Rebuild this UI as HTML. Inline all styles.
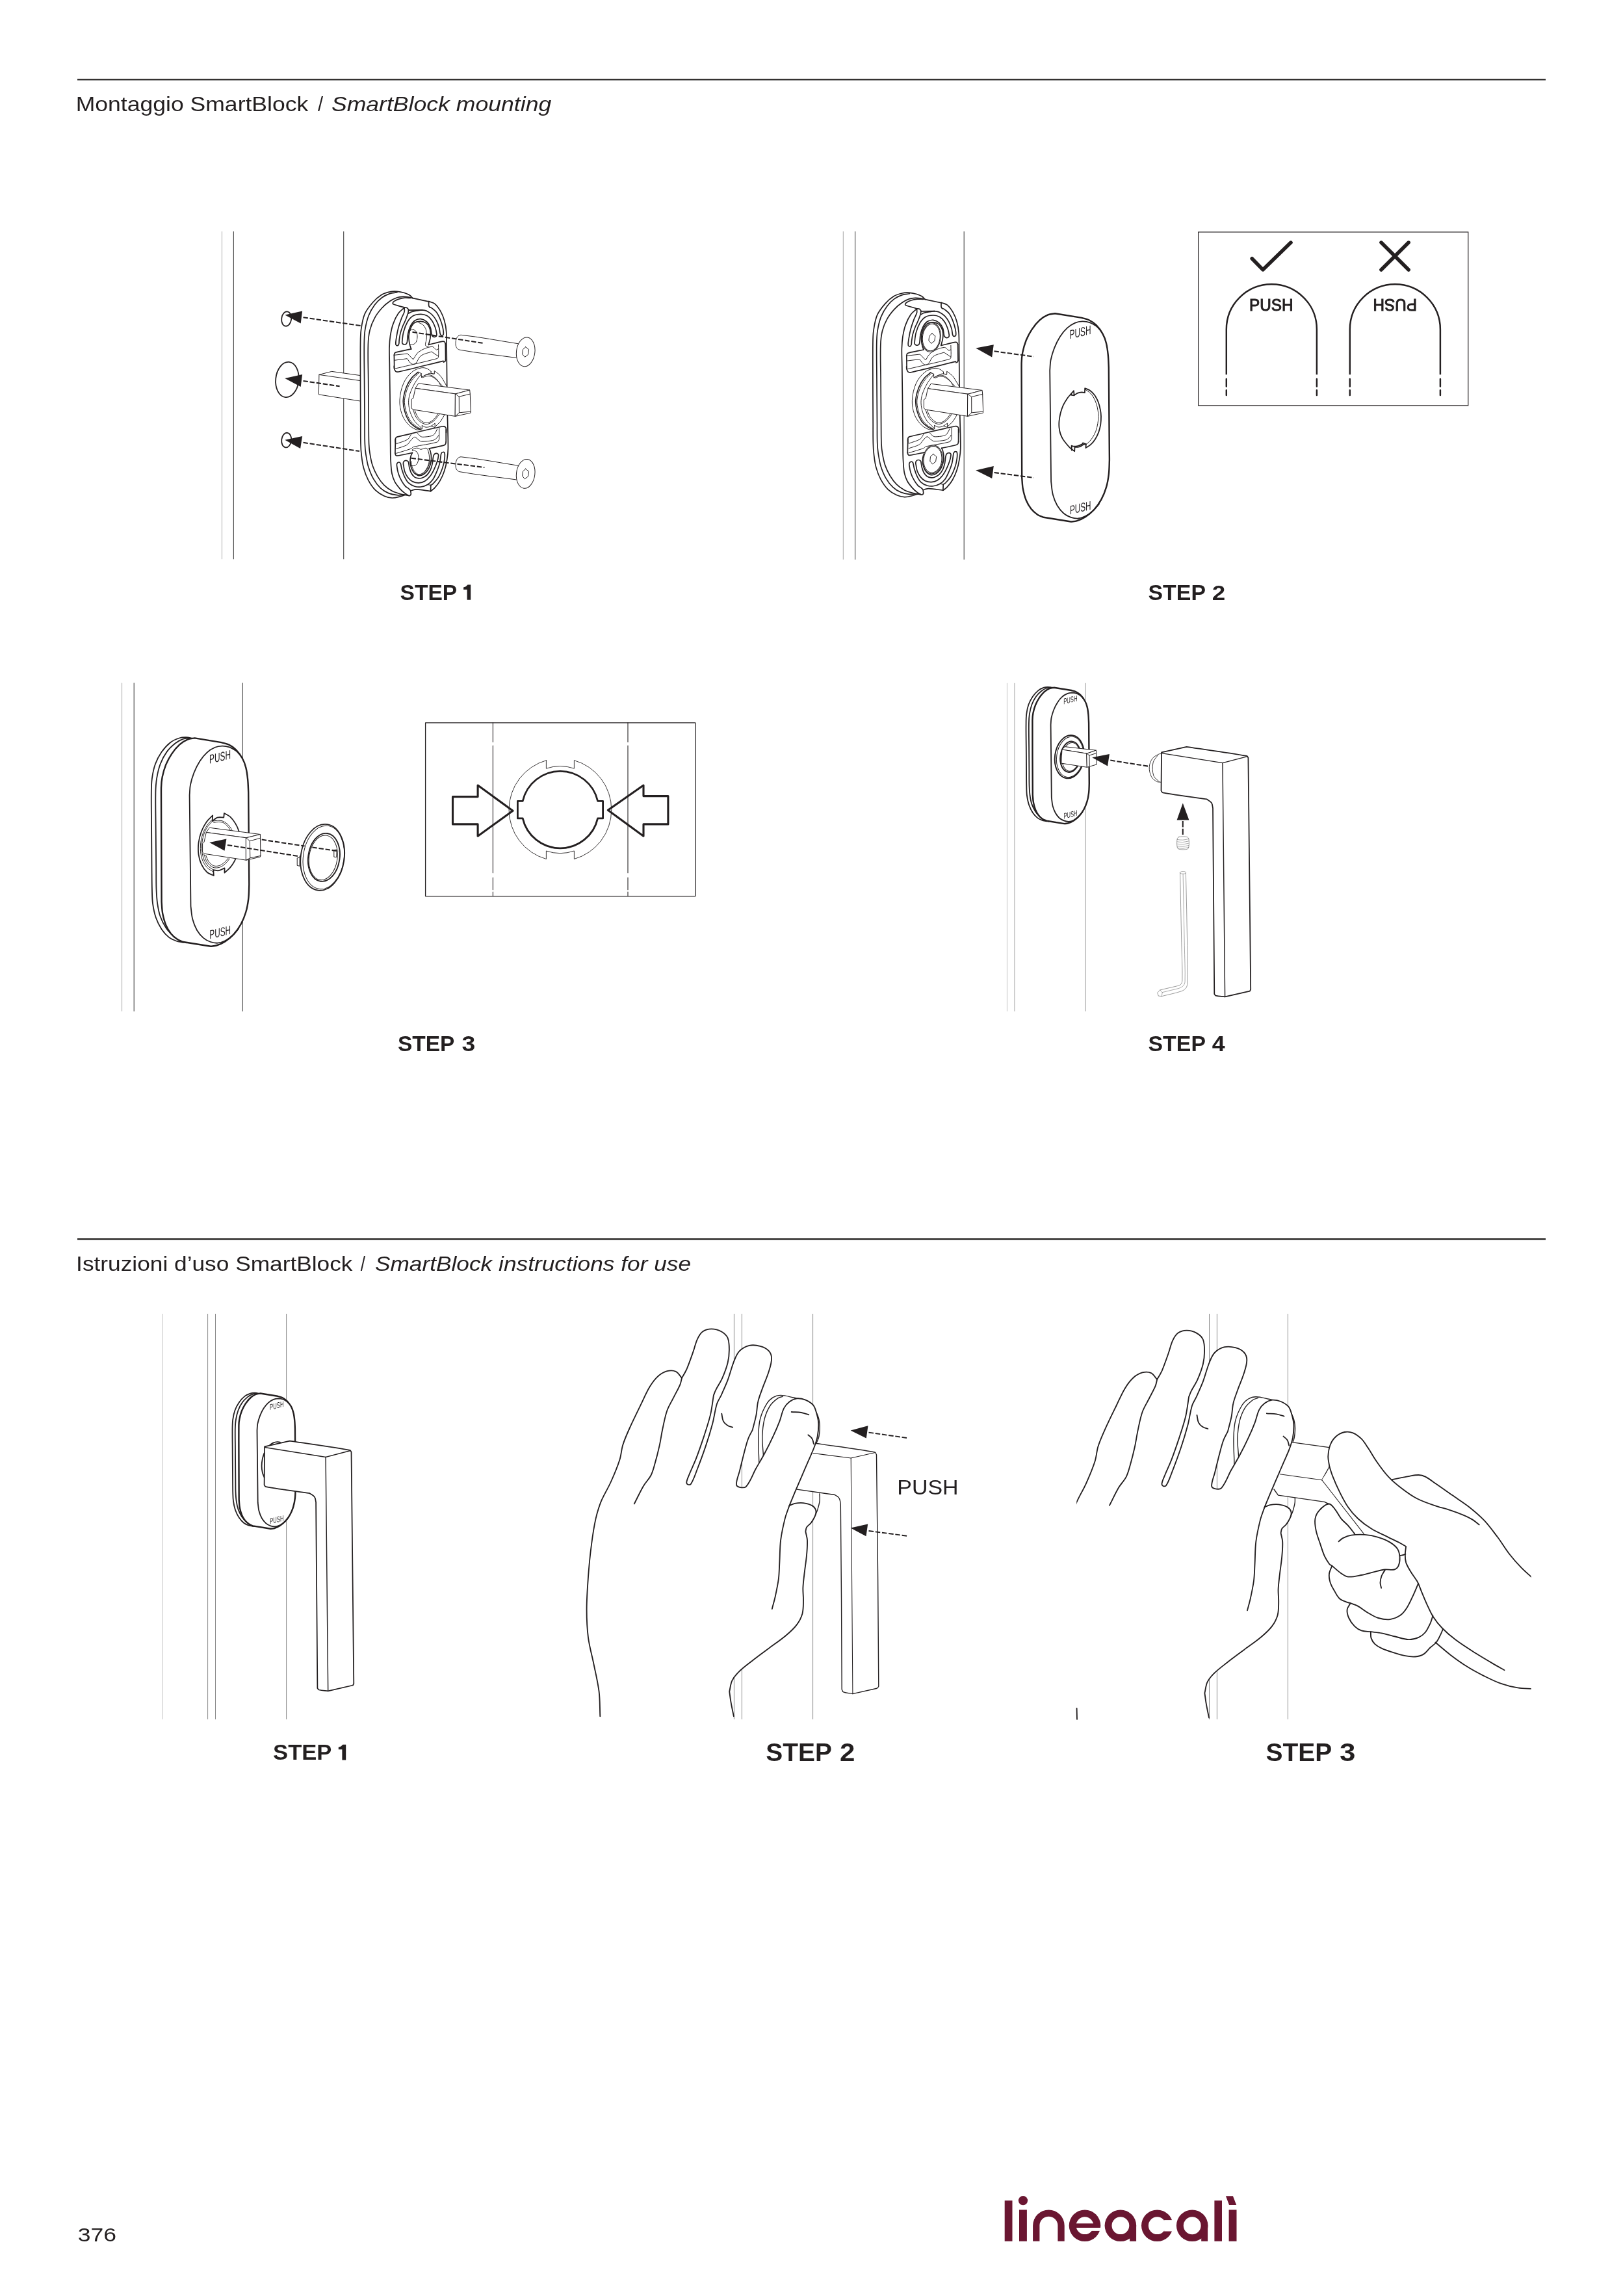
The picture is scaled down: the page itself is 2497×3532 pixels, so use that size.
<!DOCTYPE html>
<html><head><meta charset="utf-8">
<style>
html,body{margin:0;padding:0;background:#fff;}
body{width:2497px;height:3532px;overflow:hidden;position:relative;font-family:"Liberation Sans",sans-serif;}
svg{position:absolute;left:0;top:0;}
text{font-family:"Liberation Sans",sans-serif;fill:#231f20;}
#headers,#labels,svg text{opacity:0.999;}
.k{stroke:#231f20;fill:none;stroke-linecap:round;stroke-linejoin:round;}
.w{fill:#fff;}
.nss path,.nss ellipse{vector-effect:non-scaling-stroke;}
.lbl{font-weight:bold;font-size:32.3px;}
.lbl2{font-weight:bold;font-size:38.3px;}
.hd{font-size:31.6px;}
</style></head><body>
<svg width="2497" height="3532" viewBox="0 0 2497 3532">
<!-- HEADERS -->
<g id="headers">
<line x1="119" y1="122.5" x2="2378" y2="122.5" stroke="#1d1b1a" stroke-width="2.1"/>
<line x1="119" y1="1906.1" x2="2378" y2="1906.1" stroke="#1d1b1a" stroke-width="2.1"/>
<text transform="translate(116.70,170.5) scale(1.1251,1)" font-size="31.6">Montaggio SmartBlock</text>
<text transform="translate(488.90,170.5) scale(0.9230,1)" font-size="31.6">/</text>
<text transform="translate(509.90,170.5) scale(1.1267,1)" font-size="31.6" font-style="italic">SmartBlock mounting</text>
<text transform="translate(117.10,1955.2) scale(1.1165,1)" font-size="31.6">Istruzioni d’uso SmartBlock</text>
<text transform="translate(554.70,1955.2) scale(0.8250,1)" font-size="31.6">/</text>
<text transform="translate(576.90,1955.2) scale(1.1166,1)" font-size="31.6" font-style="italic">SmartBlock instructions for use</text>
</g>
<!-- LABELS -->
<g id="labels">
<text transform="translate(615.50,922.7) scale(1.0399,1)" font-size="32.3" font-weight="bold">STEP</text>
<path fill="#231f20" d="M724.2,899.6 L724.2,922.7 L718.6,922.7 L718.6,907.0 L713.1,907.0 L713.1,903.5 L716.8,902.3 L719.5,899.6Z"/>
<text transform="translate(1766.50,922.7) scale(1.0496,1)" font-size="32.3" font-weight="bold">STEP</text>
<text transform="translate(1864.70,922.7) scale(1.1389,1)" font-size="32.3" font-weight="bold">2</text>
<text transform="translate(611.90,1616.8) scale(1.0376,1)" font-size="32.3" font-weight="bold">STEP</text>
<text transform="translate(710.50,1616.8) scale(1.1549,1)" font-size="32.3" font-weight="bold">3</text>
<text transform="translate(1766.50,1616.8) scale(1.0496,1)" font-size="32.3" font-weight="bold">STEP</text>
<text transform="translate(1864.70,1616.8) scale(1.1070,1)" font-size="32.3" font-weight="bold">4</text>
<text transform="translate(420.10,2707.4) scale(1.0420,1)" font-size="33.2" font-weight="bold">STEP</text>
<path fill="#231f20" d="M532.2,2683.7 L532.2,2707.4 L526.4,2707.4 L526.4,2691.3 L520.8,2691.3 L520.8,2687.7 L524.6,2686.4 L527.4,2683.7Z"/>
<text transform="translate(1178.30,2709.2) scale(1.0149,1)" font-size="38.3" font-weight="bold">STEP</text>
<text transform="translate(1291.90,2709.2) scale(1.0984,1)" font-size="38.3" font-weight="bold">2</text>
<text transform="translate(1947.50,2709.2) scale(1.0172,1)" font-size="38.3" font-weight="bold">STEP</text>
<text transform="translate(2060.90,2709.2) scale(1.1465,1)" font-size="38.3" font-weight="bold">3</text>
<text transform="translate(119.70,3448) scale(1.1876,1)" font-size="29.9">376</text>
<text transform="translate(1380.30,2299.3) scale(1.0608,1)" font-size="32.0">PUSH</text>
</g>
<!--S1-->
<g id="s1" class="k">
<line x1="341.5" y1="356" x2="341.5" y2="860.2" stroke="#a6a6a6" stroke-width="1.0" stroke-linecap="butt"/><line x1="359.4" y1="356" x2="359.4" y2="860.2" stroke="#4c4c4c" stroke-width="1.15" stroke-linecap="butt"/><line x1="528.7" y1="356" x2="528.7" y2="860.2" stroke="#4c4c4c" stroke-width="1.15" stroke-linecap="butt"/>
<ellipse cx="440.7" cy="490.5" rx="7.5" ry="11.3" transform="rotate(7 440.7 490.5)" stroke-width="1.8"/>
<ellipse cx="441.9" cy="584" rx="17.7" ry="27.2" transform="rotate(6 441.9 584)" stroke-width="1.8"/>
<ellipse cx="440.7" cy="677.1" rx="7.5" ry="11.4" transform="rotate(7 440.7 677.1)" stroke-width="1.8"/>
<path d="M553.6,577.5 L510.4,571.4 L490.9,576.4 L490.4,606.9 L553.6,616.9" stroke-width="1.0" fill="#fff"/>
<path d="M490.9,576.4 L553.6,585.5" stroke-width="1.0" />
<path d="M466.5,488.3 L555.8,501.2" stroke-width="2.05" stroke-dasharray="7.4 2.8" stroke-linecap="butt"/>
<path d="M438.3,484.4 L465.1,478.6 L462.7,497.5 Z" fill="#231f20" stroke="none"/>
<path d="M466.5,585.9 L522.6,594.2" stroke-width="2.05" stroke-dasharray="7.4 2.8" stroke-linecap="butt"/>
<path d="M438.3,582 L465.1,576.1 L462.7,595 Z" fill="#231f20" stroke="none"/>
<path d="M466.5,680.8 L553,694.1" stroke-width="2.05" stroke-dasharray="7.4 2.8" stroke-linecap="butt"/>
<path d="M438.3,676.8 L465.1,671 L462.1,689.9 Z" fill="#231f20" stroke="none"/>
<path d="M797.6,528.8 C768.2,524.3 739,518.4 709.4,515.3 C707.1,515 704.7,516.9 703.3,518.8 C701.7,521 701.3,523.9 701.1,526.6 C700.9,529.2 701,532 702.2,534.3 C703.2,536.2 705.1,537.9 707.2,538.2 C736,543.3 765.2,546.4 794.2,550.4" stroke-width="1.0" />
<ellipse cx="808.7" cy="541.3" rx="14.2" ry="22.5" transform="rotate(7 808.7 541.3)" stroke-width="1.0" fill="#fff"/>
<path d="M808.7,533.8 L813.6,537.7 L812.5,545.4 L807.5,549.3 L803.7,544.9 L804.4,537.7 L808.7,533.8Z" stroke-width="1.0" />
<path d="M797.6,716.3 C768.2,711.8 739,705.9 709.4,702.8 C707.1,702.5 704.7,704.4 703.3,706.3 C701.7,708.5 701.3,711.4 701.1,714.1 C700.9,716.7 701,719.5 702.2,721.8 C703.2,723.7 705.1,725.4 707.2,725.7 C736,730.8 765.2,733.9 794.2,737.9" stroke-width="1.0" />
<ellipse cx="808.7" cy="728.8" rx="14.2" ry="22.5" transform="rotate(7 808.7 728.8)" stroke-width="1.0" fill="#fff"/>
<path d="M808.7,721.3 L813.6,725.2 L812.5,732.9 L807.5,736.8 L803.7,732.4 L804.4,725.2 L808.7,721.3Z" stroke-width="1.0" />
<path d="M635,458.6 C633.3,457 631.8,455.1 629.8,453.8 C627.4,452.4 624.8,451.3 622.1,450.5 C618.5,449.5 614.7,448.6 611,448.3 C607.3,448 603.5,448 599.9,448.9 C595.3,449.9 590.6,451.3 586.6,453.8 C581.6,457 577.1,461 573.3,465.5 C568.6,470.9 563.9,476.6 561.1,483.2 C557.8,490.9 556.7,499.4 555.5,507.6 C554.5,515 554.6,522.4 554.5,529.8 C554.3,548.3 554.5,566.8 554.5,585.3 C554.6,608.7 554.6,632.1 554.8,655.5 C554.8,664.7 554.7,673.9 555,683.2 C555.1,688.7 555.4,694.3 556.1,699.8 C556.9,706.5 557.6,713.3 559.4,719.8 C561.2,726.3 563.5,732.7 566.6,738.6 C569.6,744.2 573.2,749.7 577.7,754.2 C581.5,757.9 586.2,760.8 591,763 C594.8,764.8 599,765.9 603.2,766 C607.3,766.2 611.4,764.9 615.4,763.9 C618.4,763.2 621.3,762 624.3,761" stroke-width="1.7" />
<path d="M611,449.7 C607.3,450.4 603.4,450.4 599.9,451.6 C595.6,453.1 591.3,455 587.7,457.7 C583.5,460.8 579.7,464.6 576.6,468.8 C572.8,473.9 569.5,479.5 567.2,485.5 C564.4,492.6 562.8,500.1 561.6,507.6 C560.5,515 560.4,522.4 560.3,529.8 C560.1,548.3 560.5,566.8 560.6,585.3 C560.8,608.7 560.9,632.1 561.1,655.5 C561.1,664.7 561,673.9 561.4,683.2 C561.6,688 562,692.8 562.7,697.6 C563.8,704.3 564.7,711.1 566.6,717.6 C568.6,724.1 571,730.5 574.4,736.4 C577.4,741.7 581.1,746.7 585.5,750.8 C589,754.2 593.2,756.7 597.7,758.6 C601.9,760.4 606.4,761.2 611,761.7 C614.7,762.1 618.4,761.3 622.1,761" stroke-width="1.7" />
<path d="M659.2,463.8 C651.2,462.1 643.1,460.4 635,458.6 C632.9,458.2 630.9,457.5 628.7,457.2 C625.8,456.7 622.8,456.3 619.9,456.4 C616.9,456.5 613.8,456.8 611,457.7 C607.1,459.1 603.3,460.9 599.9,463.3 C595.5,466.3 591.3,469.8 587.7,473.8 C583.5,478.4 579.6,483.3 576.6,488.8 C573.3,494.7 570.7,501.1 569.1,507.6 C567.3,514.9 566.6,522.4 566.4,529.8 C565.8,548.3 566.6,566.8 566.7,585.3 C566.9,608.7 567,632.1 567.2,655.5 C567.3,664.7 567.2,673.9 567.6,683.2 C567.8,688 568.2,692.8 569.1,697.6 C570.1,703.9 571.2,710.3 573.3,716.5 C575.2,722.2 577.9,727.8 581,733.1 C583.9,737.9 587.1,742.5 591,746.4 C594.6,750 598.8,752.9 603.2,755.3 C607,757.3 611.3,758.5 615.4,759.7 C619.4,760.8 623.5,761.3 627.6,762.1" stroke-width="1.7" />
<path d="M622.1,473.3 C619,476.2 615.3,478.6 612.9,482.1 C609.5,487 606.9,492.5 604.9,498.1 C602.7,504.1 601.5,510.4 600.5,516.6 C599.6,522.7 599.2,528.9 599,535.1 C598.8,544.4 599.3,553.8 599.4,563.1 C599.6,577.9 599.9,592.7 600,607.4 C600.3,634.5 600.4,661.5 600.7,688.5 C600.7,695.7 600.7,702.9 601.2,710 C601.5,716.2 601.8,722.5 603,728.5 C603.9,732.8 605.3,737 607.3,740.9 C609.4,744.9 612.4,748.5 615.3,751.9 C617.5,754.5 620.1,756.7 622.7,758.7 C624.5,760.1 626.6,761.1 628.6,762.3" stroke-width="1.7" />
<path d="M659.7,463.6 C662.8,464.9 666.4,465.2 668.9,467.3 C672.5,470.3 675.2,474.3 677.6,478.4 C680.2,483 682.3,488.1 683.7,493.2 C685.3,498.8 686.3,504.6 686.7,510.5 C687.4,520.6 687,530.8 687.2,540.9 C687.4,558.7 687.5,576.4 687.7,594.1 C687.9,609 688.1,623.9 688.4,638.8 C688.7,656 689.6,673.2 689.4,690.3 C689.3,695.9 688.6,701.5 687.7,707 C686.8,712.8 685.6,718.6 683.7,724.2 C682,729.5 679.7,734.7 676.9,739.6 C674.7,743.5 671.9,747.1 668.9,750.4 C667.2,752.4 664.8,753.8 662.8,755.5" stroke-width="1.7" />
<path d="M632,458.5 C628.9,458.4 625.8,457.9 622.7,458.2 C619.6,458.5 616.5,459.1 613.5,460.1 C610.9,460.9 608.3,462.1 606.1,463.6 C605.2,464.3 604.2,465.3 604.2,466.4 C604.2,467.3 605.3,468 606.1,468.2 C611.3,470.1 616.7,471.5 622.1,472.9 C623.4,473.2 624.9,472.9 626.1,473.5 C627.1,474 627.7,475 628.3,475.9 C628.5,476.3 628.5,476.8 628.6,477.2" stroke-width="1.7" />
<path d="M628.6,477.2 L649.2,476.9" stroke-width="1.7" />
<path d="M659.7,463.6 C659.7,465.9 659.3,468.2 659.7,470.4 C659.8,471.3 660.7,471.8 661.2,472.6" stroke-width="1.7" />
<path d="M628.6,477.2 C628.3,478.8 628.1,480.5 627.7,482.1 C626.8,485 625.7,487.9 624.6,490.7 C623.1,494.5 621.1,498.1 619.6,501.8 C618.2,505.5 616.9,509.1 615.9,512.9 C615,516.6 614.6,520.3 614.1,524 C613.9,525.7 614.2,527.6 613.6,529.2 C613.3,530.3 612.6,531.6 611.5,531.7 C610.5,531.8 609.1,530.9 608.9,529.9 C608.4,526.5 609.3,523.1 609.8,519.7 C610.6,514.5 611.5,509.4 612.9,504.3 C614.2,499.3 616,494.4 617.8,489.5 C619.1,486.1 621.2,483.1 622.1,479.6 C622.7,477.6 622.1,475.4 622.1,473.3" stroke-width="1.7" />
<path d="M628.6,482.1 C630.1,481.3 631.5,480.2 633.2,479.6 C636,478.8 638.9,478.4 641.8,477.9 C644.3,477.5 646.7,476.9 649.2,476.9 C651.7,477 654.3,477.4 656.6,478.4 C659.6,479.8 662.3,481.7 664.6,484 C667.3,486.7 669.6,489.8 671.4,493.2 C673.3,496.7 674.6,500.5 675.7,504.3 C676.6,507.5 676.4,511 677.4,514.1 C677.7,515.1 678.6,516.1 679.5,516.1 C680.6,516.1 682,515.2 682.2,514.1 C682.7,510.9 681.9,507.5 681.3,504.3 C680.4,500.1 679.1,496 677.6,492 C676,488.1 674.4,484.2 672,480.9 C670.1,478.2 667.3,476.1 664.6,474.1 C663.6,473.3 662.4,473.1 661.2,472.6" stroke-width="1.7" />
<path d="M618.7,525.9 C619.2,520.7 619.5,515.5 620.9,510.5 C622.3,505.1 624.2,499.8 627,495 C629.2,491.4 632,487.9 635.7,485.8 C639.1,483.8 643.4,483.3 647.4,483.3 C650.8,483.3 654.3,484.1 657.2,485.8 C660.3,487.5 662.6,490.3 664.6,493.2 C666.8,496.4 668.3,500 669.6,503.7 C670.7,507.1 671.5,510.6 671.9,514.1 C672,515.2 671.8,516.5 671.1,517.2 C670.4,518 669.1,518.4 668,518.3 C666.8,518.2 665.7,517.5 664.9,516.6 C664.3,516 664.2,515 664,514.1 C663.3,510.7 663.4,507 662.2,503.7 C660.9,500.5 659.2,497.3 656.6,495 C654.1,492.8 650.8,491.1 647.4,490.7 C644.2,490.4 640.8,491.4 638.1,493.2 C635.1,495.3 633,498.6 631.4,501.8 C629.5,505.5 628.5,509.5 627.7,513.5 C626.8,517.6 627.1,521.8 626.4,525.9 C626.2,526.9 626,528.2 625.2,528.9 C624.4,529.7 623.2,530 622.1,530 C621.1,529.9 620,529.4 619.3,528.6 C618.7,527.9 618.6,526.8 618.7,525.9Z" stroke-width="1.7" />
<path d="M632.6,536.9 C631.8,534.3 630.6,531.7 630.1,528.9 C629.4,524.9 628.6,520.7 628.9,516.6 C629.2,512.4 630.2,508.1 632,504.3 C633.4,501.2 635.3,498.1 638.1,496.3 C640.8,494.6 644.2,494.3 647.4,494.4 C650.2,494.5 653.1,495.3 655.4,496.9 C657.6,498.4 659.2,500.7 660.3,503.1 C661.6,505.7 662.2,508.7 662.5,511.7 C662.7,514.6 662.3,517.5 661.9,520.3 C661.3,523.7 660.2,527 659.4,530.3" stroke-width="1.7" />
<path d="M644.3,496.4 C646.3,497.4 648.7,497.9 650.5,499.4 C652.3,501 653.8,503.2 654.8,505.5 C655.8,508 656.1,510.8 656.3,513.5 C656.5,516.6 656.4,519.7 656,522.8 C655.7,524.9 654.7,526.8 654.5,528.9 C654.4,530 654.3,531.3 655.1,532 C656.1,533 657.7,533 659.1,533.6" stroke-width="1.0" />
<path d="M636,506.8 C637.5,508 639.7,508.7 640.6,510.5 C641.8,512.9 642.1,515.8 642,518.5 C641.8,521.2 641.5,524.2 640,526.5 C638.8,528.4 636.6,529.6 634.4,530.3 C633.3,530.7 632.2,529.8 631,529.6" stroke-width="1.0" />
<path d="M631,508.6 C631.8,508.1 632.4,507.4 633.2,507.1 C634.1,506.7 635,506.9 636,506.8" stroke-width="1.0" />
<path d="M632.6,536.9 C625.2,538.5 617.7,539.8 610.4,541.6 C609.3,541.8 608.1,542.2 607.3,543.1 C606.6,543.9 606.7,545.2 606.4,546.2" stroke-width="1.7" />
<path d="M659.4,530.3 C666.7,528.6 673.9,526.6 681.3,525.2 C682.2,525.1 683.3,525.2 684,525.9 C684.8,526.6 684.9,527.9 685.3,528.9" stroke-width="1.7" />
<path d="M685.3,528.9 L685.6,553.6" stroke-width="1.7" />
<path d="M606.4,546.2 L606.7,565.9" stroke-width="1.7" />
<path d="M685.6,553.6 C685.4,554.3 685.5,555.2 685,555.7 C684.3,556.4 683.3,556.6 682.5,557" stroke-width="1.7" />
<path d="M682,555.3 C659,560.9 636.2,566.9 613.2,572 C611.7,572.3 610,572.3 608.8,571.4 C607.4,570.4 607,568.6 606.5,567 C606.2,565.7 606.4,564.4 606.3,563.1" stroke-width="1.7" />
<path d="M607.3,546.2 L627,544 L635.7,553 C638.5,549.1 640.3,544 644.3,541.3 C650.1,537.2 657,534.1 664,533.3 C667,532.9 668.9,536.5 671.4,538.2 L674.2,536.9" stroke-width="1.0" />
<path d="M607.3,554.2 L626.4,551.7 C628.7,554.4 630.2,558 633.2,559.7 C635,560.8 637.8,560.5 639.4,559.1 C642.9,556 643.6,550.2 647.4,547.4 C652.2,543.9 658.5,543.1 664,541 L674.2,548" stroke-width="1.0" />
<path d="M607.6,567.1 C629.1,562 650.7,557.4 672,551.7 C673.1,551.4 674.4,550.4 674.5,549.3 C675.2,542.9 674.5,536.5 674.5,530.2" stroke-width="1.0" />
<path d="M628.6,762.3 C629.2,762.4 629.9,762.9 630.4,762.5 C631.3,762 632.1,761.1 632.3,760.1 C632.6,758.5 631.4,756.8 632,755.3 C632.3,754.5 633.5,754.4 634.4,754.1 C636.4,753.5 638.5,752.8 640.6,752.9 C647.9,753.3 655.2,754.7 662.5,755.6" stroke-width="1.7" />
<path d="M662.5,755.6 L662.8,746.4" stroke-width="1.7" />
<path d="M662.8,746.4 L657.8,745.5" stroke-width="1.0" />
<path d="M632,755.3 C631.1,754.3 630.5,753.1 629.5,752.3 C627.8,750.7 625.5,749.9 624,748.3 C621.6,745.7 619.5,742.7 617.8,739.6 C615.8,736.1 614.1,732.4 612.9,728.5 C611.6,724.3 610.9,720 610.4,715.6 C610.3,714.5 610.6,713.4 611.1,712.5 C611.7,711.7 612.6,711 613.5,711 C614.4,710.9 615.4,711.5 615.9,712.2 C616.6,713.1 616.6,714.5 616.9,715.6 C617.4,717.8 617.7,720.2 618.4,722.4 C619.5,725.9 620.5,729.5 622.1,732.8 C623.8,736.3 625.5,740 628.3,742.7 C631,745.3 634.5,747.1 638.1,748.3 C641.1,749.2 644.3,749.4 647.4,749 C651,748.5 654.7,747.4 657.8,745.5 C661,743.6 663.7,740.8 665.9,737.8 C668.5,734 670.2,729.7 672,725.5 C673.7,721.4 675.3,717.4 676.3,713.1 C677.3,709.1 677.5,704.9 678.2,700.8 C678.4,699.6 678.4,698.2 679.1,697.1 C679.6,696.2 680.5,695.3 681.6,695.3 C682.5,695.2 683.8,695.9 684,696.8 C684.7,700.1 684.3,703.6 683.8,707 C683.2,711.6 682.2,716.1 680.6,720.5 C679,725.2 677.1,729.8 674.5,734.1 C672.3,737.7 669.4,740.9 666.5,743.9 C665.5,745 664,745.6 662.8,746.4" stroke-width="1.7" />
<path d="M620.9,716.2 C621.5,719.3 621.6,722.5 622.7,725.5 C623.9,728.7 625.5,732 627.7,734.7 C629.7,737.2 632.2,739.4 635,740.9 C637.9,742.2 641.1,742.9 644.3,742.8 C647.5,742.7 650.8,741.8 653.5,740.2 C656.7,738.4 659.3,735.7 661.5,732.8 C664.1,729.7 665.9,726 667.7,722.4 C669.6,718.4 671.3,714.3 672.6,710 C673.6,707 674.3,703.9 674.6,700.8 C674.7,700 674.5,698.9 673.9,698.3 C673.2,697.7 672.1,697.3 671.1,697.4 C670,697.5 668.7,698.1 668,699 C667.1,700.2 666.8,701.8 666.5,703.3 C665.8,706.5 665.9,709.9 665.2,713.1 C664.5,716.5 663.7,719.9 662.2,723 C660.7,725.9 659,728.8 656.6,731 C654.5,733 651.9,734.3 649.2,735.3 C647.7,735.9 645.9,736.1 644.3,735.9 C642.2,735.7 639.9,735.3 638.1,734.1 C636.1,732.7 634.5,730.7 633.2,728.5 C631.7,726.1 630.9,723.3 630.1,720.5 C629.4,718.1 629.3,715.6 628.8,713.1 C628.6,712.1 628.7,710.8 628,710 C627.1,709.1 625.8,708.3 624.6,708.3 C623.3,708.3 622,709.1 621.2,710 C620.5,710.8 620.4,712.1 620.4,713.1 C620.3,714.2 620.7,715.2 620.9,716.2Z" stroke-width="1.7" />
<path d="M634.4,696.5 C633.6,698.3 632.5,700.1 632,702 C631.3,704.6 630.9,707.4 631,710 C631.2,713.2 631.6,716.3 632.6,719.3 C633.6,722.2 634.9,725 636.9,727.3 C638.5,729.2 640.7,730.7 643.1,731.4 C645,732 647.3,731.7 649.2,731 C651.6,730.1 653.7,728.5 655.4,726.7 C657.4,724.5 659.1,722 660.3,719.3 C661.7,716.4 662.6,713.2 663.1,710 C663.6,707 663.6,703.9 663.4,700.8 C663.2,698.3 662.5,695.8 661.9,693.4 C661.5,692.2 660.8,691.2 660.3,690" stroke-width="1.7" />
<path d="M632.3,709.4 C633,712.7 633.2,716.1 634.4,719.3 C635.4,721.9 636.9,724.4 638.7,726.4 C640.2,728 642.2,729.4 644.3,729.9 C646.1,730.3 648.2,730 649.8,729.1 C652,728 653.6,726.1 655.1,724.2 C656.7,722.2 658.1,719.9 659.1,717.4 C660.3,714.5 660.9,711.3 661.9,708.2" stroke-width="1.0" />
<path d="M635,691.3 C636.1,690.7 637,690 638.1,689.7 C639.7,689.3 641.4,689.1 643.1,689.4 C644.6,689.7 645.8,691.3 647.4,691.3 C650.3,691.3 653.2,688.6 656,689.4 C657.9,690 658.5,692.7 659.1,694.6 C660.1,697.8 660.6,701.2 660.6,704.5 C660.6,708 660.2,711.6 659.1,715 C658,718.3 656.3,721.5 654.1,724.2 C652.5,726.3 650.4,728.1 648,729.1 C646.1,730 643.9,730.1 641.8,729.8 C640.4,729.5 639.4,728.1 638.1,727.3" stroke-width="1.0" />
<path d="M635,691.3 C634.8,692 633.8,693 634.4,693.4 C635.3,694 636.5,692.8 637.5,693.1 C639.1,693.6 640.9,694.4 641.8,695.9 C643.2,698 643.9,700.7 644,703.3 C644.1,706.2 643.6,709.2 642.4,711.9 C641.6,713.8 640,715.4 638.1,716.2 C636.4,717 634.4,716.2 632.6,716.2" stroke-width="1.0" />
<path d="M634.4,696.5 C626.6,698 618.9,700.1 611,701.1 C610.1,701.2 609.2,700.6 608.7,699.9 C608.1,699.1 608.2,698 607.9,697.1" stroke-width="1.7" />
<path d="M607.9,697.1 L608.4,675.5" stroke-width="1.7" />
<path d="M660.3,690 C667.7,688.4 675.2,687.1 682.5,685.1 C683.6,684.8 684.6,684.2 685.3,683.2 C685.9,682.3 685.9,681 686.2,679.9" stroke-width="1.7" />
<path d="M686.2,679.9 L686.2,660.8" stroke-width="1.7" />
<path d="M611,672.1 C634.3,666.7 657.4,660.7 680.9,656 C682.3,655.7 684.1,656.1 685.3,657.1 C686.3,658 686.4,659.6 686.6,661 C686.9,662.5 686.6,664 686.6,665.4" stroke-width="1.7" />
<path d="M611,672.1 C610.2,672.6 609.2,672.9 608.8,673.8 C608.2,674.9 608.2,676.3 608.2,677.6 C608.2,678.7 608.4,679.9 608.5,681" stroke-width="1.7" />
<path d="M609.7,682.7 C615.4,680.5 621.6,679.2 626.9,676.2 C629,675 629.9,672.6 631.2,670.6 C631.9,669.5 632.4,668.3 633,667.1" stroke-width="1.0" />
<path d="M609.7,690.4 C615.1,688.4 621,687.2 626.1,684.4 C628.4,683.1 629.5,680.3 631.2,678.4 C632.9,676.5 634.4,674.3 636.4,672.7 C637.1,672.2 638.1,672.5 639,672.3 C641,674 642.9,675.9 645,677.5 C646.1,678.2 647.2,679.2 648.5,679.2 C654.3,679.2 660.1,678.7 665.7,677.5 C668,677 670,675.5 671.8,674 C673.1,672.9 673.8,671.2 674.8,669.7" stroke-width="1.0" />
<path d="M642,666.3 C643.6,667.9 645,669.7 646.8,671 C647.7,671.7 649,672.3 650.2,672.3 C654.8,672.2 659.5,671.7 664,670.6 C665.6,670.2 667.2,669.3 668.3,668 C670.2,665.7 671.2,662.8 672.6,660.2" stroke-width="1.0" />
<path d="M609.7,697.3 C617.1,695 624.8,693.1 632.1,690.4 C633.7,689.8 634.7,687.8 636.4,687.4 C648.3,684.4 660.8,683.6 672.6,680.1 C674.3,679.6 674.6,677.2 675.7,675.8 L675.7,658.5" stroke-width="1.0" />
<path d="M663.1,571.4 C661.1,570 659.4,568 657.1,567.1 C654.4,566 651.3,565.2 648.5,565.8 C643.3,566.9 637.9,568.8 633.8,572.3 C628.4,576.9 623.8,582.9 620.9,589.5 C617.3,597.6 615.5,606.6 615,615.4 C614.6,622.6 615.9,630.1 618.3,636.9 C620.3,642.7 623.7,648 627.8,652.5 C631.1,656.1 635.4,658.8 639.9,660.7 C642.5,661.8 645.6,660.8 648.5,660.9" stroke-width="1.0" />
<path d="M663.1,571.4 L663.1,574.4 L668.3,575.3 L668.3,570.5 C671.2,572.8 674.5,574.6 676.9,577.4 C680.1,581 682.2,585.4 684.7,589.5 C685.8,591.2 686.7,593.1 687.7,594.9" stroke-width="1.0" />
<path d="M670,655.9 C672.6,653.3 675.6,651 677.8,648.2 C680.2,645.1 681.8,641.5 683.8,638.2" stroke-width="1.0" />
<path d="M643.3,572.5 C640.1,575.3 636.4,577.6 633.8,580.9 C630.3,585.3 627.2,590.3 625.2,595.5 C622.7,601.9 620.9,608.6 620.4,615.4 C620,621.2 621.1,627 622.6,632.6 C624.1,638.1 626.3,643.5 629.5,648.2 C632.2,652 636.1,654.9 639.9,657.6 C641.9,659.1 644.5,659.7 646.8,660.7" stroke-width="1.7" />
<path d="M644.6,573.5 C641.6,576.6 638.1,579.2 635.5,582.6 C632.3,586.9 629.3,591.4 627.3,596.4 C624.9,602.5 623,608.9 622.4,615.4 C622,620.9 623.1,626.5 624.5,631.8 C625.9,636.9 627.9,642 630.8,646.4 C633.2,650.2 636.8,653.1 640.3,655.9 C642.5,657.6 645.2,658.5 647.6,659.8" stroke-width="1.0" />
<path d="M648.5,574.7 C645,579.6 641.1,584.3 638.1,589.5 C635,595 632.3,600.7 630.4,606.8 C629.1,610.9 628.5,615.3 628.6,619.7 C628.8,624.7 629.7,629.7 631.2,634.4 C632.9,639.2 635.2,643.9 638.1,648.2 C640.4,651.5 643.9,653.9 646.8,656.8 C647.7,657.7 648.5,658.8 649.3,659.8" stroke-width="1.0" />
<path d="M643.3,572.5 L648,574.4 L648.5,580.4 C652.5,578.4 656.2,575.6 660.6,574.4 C662.8,573.8 665.2,575.1 667.5,575.4" stroke-width="1.0" />
<path d="M648.5,580.4 C650.8,579.2 652.8,577.2 655.4,576.7 C658.2,576.2 661.4,576.4 664,577.6 C667.3,579.1 670.2,581.6 672.6,584.3 C674.9,586.9 676.2,590.2 678,593.1" stroke-width="1.0" />
<path d="M650.2,580.9 C652.5,580.1 654.7,578.7 657.1,578.5 C659.7,578.2 662.5,578.4 664.9,579.6 C668.5,581.3 671.4,584.2 674.4,586.9 C676.6,588.9 678.4,591.4 680.4,593.6" stroke-width="1.0" />
<path d="M635.5,630 C637,633.8 637.8,637.8 639.9,641.3 C641.6,644.2 644,647 646.8,649 C649.3,650.9 652.3,652.5 655.4,652.6 C658.4,652.8 661.4,651.4 664,649.9 C666.7,648.4 668.8,646.1 670.9,643.8 C672.9,641.7 674.4,639.2 676.1,636.9" stroke-width="1.0" />
<path d="M638.1,630.9 C639.4,634.1 640.2,637.5 642,640.4 C643.6,643 645.6,645.5 648,647.3 C650.3,649 653,650.4 655.8,650.6 C658.5,650.7 661.2,649.5 663.6,648.2 C666,646.8 667.8,644.6 669.6,642.6 C671.3,640.7 672.5,638.5 673.9,636.5" stroke-width="1.0" />
<path d="M649.3,654.6 L649.3,659.8" stroke-width="1.0" />
<path d="M649.3,654.6 C651.4,655.5 653.2,657.1 655.4,657.2 C658,657.4 660.7,656.6 663.1,655.5 C665.4,654.5 667.2,652.6 669.2,651.2 L669.2,657.6 L663.1,655.5" stroke-width="1.0" />
<path d="M644.2,589.9 L722.7,600 L700.7,605.9 L639.4,597.3Z" stroke-width="1.0" fill="#fff"/>
<path d="M639.4,597.3 L700.7,605.9 L700.4,640.4 L635.5,630 L633,627.9 L633,614.5 L635.5,612.8Z" stroke-width="1.0" fill="#fff"/>
<path d="M700.7,605.9 L722.7,600 L723.3,606.1 L724.2,633.1 L724,635.2 L700.4,640.4Z" stroke-width="1.0" fill="#fff"/>
<path d="M700.7,605.9 L706.3,610.2 L723.3,606.1" stroke-width="1.0" />
<path d="M706.3,610.2 L706.4,634.8 L700.4,640.4" stroke-width="1.0" />
<path d="M706.4,634.8 L724.2,633.1" stroke-width="1.0" />
<path d="M634.5,510.8 L744.9,528.2" stroke-width="2.05" stroke-dasharray="7.4 2.8" stroke-linecap="butt"/>
<path d="M632.6,704.8 L745.4,719.1" stroke-width="2.05" stroke-dasharray="7.4 2.8" stroke-linecap="butt"/>
</g>
<!--/S1-->
<!--S2-->
<g id="s2" class="k">
<line x1="1297.3" y1="356" x2="1297.3" y2="860.7" stroke="#a6a6a6" stroke-width="1.0" stroke-linecap="butt"/><line x1="1315.6" y1="356" x2="1315.6" y2="860.7" stroke="#4c4c4c" stroke-width="1.15" stroke-linecap="butt"/><line x1="1483.2" y1="356" x2="1483.2" y2="860.7" stroke="#4c4c4c" stroke-width="1.15" stroke-linecap="butt"/>
<g transform="translate(788.4,7) scale(1,0.989)">
<path d="M635,458.6 C633.3,457 631.8,455.1 629.8,453.8 C627.4,452.4 624.8,451.3 622.1,450.5 C618.5,449.5 614.7,448.6 611,448.3 C607.3,448 603.5,448 599.9,448.9 C595.3,449.9 590.6,451.3 586.6,453.8 C581.6,457 577.1,461 573.3,465.5 C568.6,470.9 563.9,476.6 561.1,483.2 C557.8,490.9 556.7,499.4 555.5,507.6 C554.5,515 554.6,522.4 554.5,529.8 C554.3,548.3 554.5,566.8 554.5,585.3 C554.6,608.7 554.6,632.1 554.8,655.5 C554.8,664.7 554.7,673.9 555,683.2 C555.1,688.7 555.4,694.3 556.1,699.8 C556.9,706.5 557.6,713.3 559.4,719.8 C561.2,726.3 563.5,732.7 566.6,738.6 C569.6,744.2 573.2,749.7 577.7,754.2 C581.5,757.9 586.2,760.8 591,763 C594.8,764.8 599,765.9 603.2,766 C607.3,766.2 611.4,764.9 615.4,763.9 C618.4,763.2 621.3,762 624.3,761" stroke-width="1.7" />
<path d="M611,449.7 C607.3,450.4 603.4,450.4 599.9,451.6 C595.6,453.1 591.3,455 587.7,457.7 C583.5,460.8 579.7,464.6 576.6,468.8 C572.8,473.9 569.5,479.5 567.2,485.5 C564.4,492.6 562.8,500.1 561.6,507.6 C560.5,515 560.4,522.4 560.3,529.8 C560.1,548.3 560.5,566.8 560.6,585.3 C560.8,608.7 560.9,632.1 561.1,655.5 C561.1,664.7 561,673.9 561.4,683.2 C561.6,688 562,692.8 562.7,697.6 C563.8,704.3 564.7,711.1 566.6,717.6 C568.6,724.1 571,730.5 574.4,736.4 C577.4,741.7 581.1,746.7 585.5,750.8 C589,754.2 593.2,756.7 597.7,758.6 C601.9,760.4 606.4,761.2 611,761.7 C614.7,762.1 618.4,761.3 622.1,761" stroke-width="1.7" />
<path d="M659.2,463.8 C651.2,462.1 643.1,460.4 635,458.6 C632.9,458.2 630.9,457.5 628.7,457.2 C625.8,456.7 622.8,456.3 619.9,456.4 C616.9,456.5 613.8,456.8 611,457.7 C607.1,459.1 603.3,460.9 599.9,463.3 C595.5,466.3 591.3,469.8 587.7,473.8 C583.5,478.4 579.6,483.3 576.6,488.8 C573.3,494.7 570.7,501.1 569.1,507.6 C567.3,514.9 566.6,522.4 566.4,529.8 C565.8,548.3 566.6,566.8 566.7,585.3 C566.9,608.7 567,632.1 567.2,655.5 C567.3,664.7 567.2,673.9 567.6,683.2 C567.8,688 568.2,692.8 569.1,697.6 C570.1,703.9 571.2,710.3 573.3,716.5 C575.2,722.2 577.9,727.8 581,733.1 C583.9,737.9 587.1,742.5 591,746.4 C594.6,750 598.8,752.9 603.2,755.3 C607,757.3 611.3,758.5 615.4,759.7 C619.4,760.8 623.5,761.3 627.6,762.1" stroke-width="1.7" />
<path d="M622.1,473.3 C619,476.2 615.3,478.6 612.9,482.1 C609.5,487 606.9,492.5 604.9,498.1 C602.7,504.1 601.5,510.4 600.5,516.6 C599.6,522.7 599.2,528.9 599,535.1 C598.8,544.4 599.3,553.8 599.4,563.1 C599.6,577.9 599.9,592.7 600,607.4 C600.3,634.5 600.4,661.5 600.7,688.5 C600.7,695.7 600.7,702.9 601.2,710 C601.5,716.2 601.8,722.5 603,728.5 C603.9,732.8 605.3,737 607.3,740.9 C609.4,744.9 612.4,748.5 615.3,751.9 C617.5,754.5 620.1,756.7 622.7,758.7 C624.5,760.1 626.6,761.1 628.6,762.3" stroke-width="1.7" />
<path d="M659.7,463.6 C662.8,464.9 666.4,465.2 668.9,467.3 C672.5,470.3 675.2,474.3 677.6,478.4 C680.2,483 682.3,488.1 683.7,493.2 C685.3,498.8 686.3,504.6 686.7,510.5 C687.4,520.6 687,530.8 687.2,540.9 C687.4,558.7 687.5,576.4 687.7,594.1 C687.9,609 688.1,623.9 688.4,638.8 C688.7,656 689.6,673.2 689.4,690.3 C689.3,695.9 688.6,701.5 687.7,707 C686.8,712.8 685.6,718.6 683.7,724.2 C682,729.5 679.7,734.7 676.9,739.6 C674.7,743.5 671.9,747.1 668.9,750.4 C667.2,752.4 664.8,753.8 662.8,755.5" stroke-width="1.7" />
<path d="M632,458.5 C628.9,458.4 625.8,457.9 622.7,458.2 C619.6,458.5 616.5,459.1 613.5,460.1 C610.9,460.9 608.3,462.1 606.1,463.6 C605.2,464.3 604.2,465.3 604.2,466.4 C604.2,467.3 605.3,468 606.1,468.2 C611.3,470.1 616.7,471.5 622.1,472.9 C623.4,473.2 624.9,472.9 626.1,473.5 C627.1,474 627.7,475 628.3,475.9 C628.5,476.3 628.5,476.8 628.6,477.2" stroke-width="1.7" />
<path d="M628.6,477.2 L649.2,476.9" stroke-width="1.7" />
<path d="M659.7,463.6 C659.7,465.9 659.3,468.2 659.7,470.4 C659.8,471.3 660.7,471.8 661.2,472.6" stroke-width="1.7" />
<path d="M628.6,477.2 C628.3,478.8 628.1,480.5 627.7,482.1 C626.8,485 625.7,487.9 624.6,490.7 C623.1,494.5 621.1,498.1 619.6,501.8 C618.2,505.5 616.9,509.1 615.9,512.9 C615,516.6 614.6,520.3 614.1,524 C613.9,525.7 614.2,527.6 613.6,529.2 C613.3,530.3 612.6,531.6 611.5,531.7 C610.5,531.8 609.1,530.9 608.9,529.9 C608.4,526.5 609.3,523.1 609.8,519.7 C610.6,514.5 611.5,509.4 612.9,504.3 C614.2,499.3 616,494.4 617.8,489.5 C619.1,486.1 621.2,483.1 622.1,479.6 C622.7,477.6 622.1,475.4 622.1,473.3" stroke-width="1.7" />
<path d="M628.6,482.1 C630.1,481.3 631.5,480.2 633.2,479.6 C636,478.8 638.9,478.4 641.8,477.9 C644.3,477.5 646.7,476.9 649.2,476.9 C651.7,477 654.3,477.4 656.6,478.4 C659.6,479.8 662.3,481.7 664.6,484 C667.3,486.7 669.6,489.8 671.4,493.2 C673.3,496.7 674.6,500.5 675.7,504.3 C676.6,507.5 676.4,511 677.4,514.1 C677.7,515.1 678.6,516.1 679.5,516.1 C680.6,516.1 682,515.2 682.2,514.1 C682.7,510.9 681.9,507.5 681.3,504.3 C680.4,500.1 679.1,496 677.6,492 C676,488.1 674.4,484.2 672,480.9 C670.1,478.2 667.3,476.1 664.6,474.1 C663.6,473.3 662.4,473.1 661.2,472.6" stroke-width="1.7" />
<path d="M618.7,525.9 C619.2,520.7 619.5,515.5 620.9,510.5 C622.3,505.1 624.2,499.8 627,495 C629.2,491.4 632,487.9 635.7,485.8 C639.1,483.8 643.4,483.3 647.4,483.3 C650.8,483.3 654.3,484.1 657.2,485.8 C660.3,487.5 662.6,490.3 664.6,493.2 C666.8,496.4 668.3,500 669.6,503.7 C670.7,507.1 671.5,510.6 671.9,514.1 C672,515.2 671.8,516.5 671.1,517.2 C670.4,518 669.1,518.4 668,518.3 C666.8,518.2 665.7,517.5 664.9,516.6 C664.3,516 664.2,515 664,514.1 C663.3,510.7 663.4,507 662.2,503.7 C660.9,500.5 659.2,497.3 656.6,495 C654.1,492.8 650.8,491.1 647.4,490.7 C644.2,490.4 640.8,491.4 638.1,493.2 C635.1,495.3 633,498.6 631.4,501.8 C629.5,505.5 628.5,509.5 627.7,513.5 C626.8,517.6 627.1,521.8 626.4,525.9 C626.2,526.9 626,528.2 625.2,528.9 C624.4,529.7 623.2,530 622.1,530 C621.1,529.9 620,529.4 619.3,528.6 C618.7,527.9 618.6,526.8 618.7,525.9Z" stroke-width="1.7" />
<path d="M632.6,536.9 C631.8,534.3 630.6,531.7 630.1,528.9 C629.4,524.9 628.6,520.7 628.9,516.6 C629.2,512.4 630.2,508.1 632,504.3 C633.4,501.2 635.3,498.1 638.1,496.3 C640.8,494.6 644.2,494.3 647.4,494.4 C650.2,494.5 653.1,495.3 655.4,496.9 C657.6,498.4 659.2,500.7 660.3,503.1 C661.6,505.7 662.2,508.7 662.5,511.7 C662.7,514.6 662.3,517.5 661.9,520.3 C661.3,523.7 660.2,527 659.4,530.3" stroke-width="1.7" />
<path d="M632.6,536.9 C625.2,538.5 617.7,539.8 610.4,541.6 C609.3,541.8 608.1,542.2 607.3,543.1 C606.6,543.9 606.7,545.2 606.4,546.2" stroke-width="1.7" />
<path d="M659.4,530.3 C666.7,528.6 673.9,526.6 681.3,525.2 C682.2,525.1 683.3,525.2 684,525.9 C684.8,526.6 684.9,527.9 685.3,528.9" stroke-width="1.7" />
<path d="M685.3,528.9 L685.6,553.6" stroke-width="1.7" />
<path d="M606.4,546.2 L606.7,565.9" stroke-width="1.7" />
<path d="M685.6,553.6 C685.4,554.3 685.5,555.2 685,555.7 C684.3,556.4 683.3,556.6 682.5,557" stroke-width="1.7" />
<path d="M682,555.3 C659,560.9 636.2,566.9 613.2,572 C611.7,572.3 610,572.3 608.8,571.4 C607.4,570.4 607,568.6 606.5,567 C606.2,565.7 606.4,564.4 606.3,563.1" stroke-width="1.7" />
<path d="M607.3,546.2 L627,544 L635.7,553 C638.5,549.1 640.3,544 644.3,541.3 C650.1,537.2 657,534.1 664,533.3 C667,532.9 668.9,536.5 671.4,538.2 L674.2,536.9" stroke-width="1.0" />
<path d="M607.3,554.2 L626.4,551.7 C628.7,554.4 630.2,558 633.2,559.7 C635,560.8 637.8,560.5 639.4,559.1 C642.9,556 643.6,550.2 647.4,547.4 C652.2,543.9 658.5,543.1 664,541 L674.2,548" stroke-width="1.0" />
<path d="M607.6,567.1 C629.1,562 650.7,557.4 672,551.7 C673.1,551.4 674.4,550.4 674.5,549.3 C675.2,542.9 674.5,536.5 674.5,530.2" stroke-width="1.0" />
<path d="M628.6,762.3 C629.2,762.4 629.9,762.9 630.4,762.5 C631.3,762 632.1,761.1 632.3,760.1 C632.6,758.5 631.4,756.8 632,755.3 C632.3,754.5 633.5,754.4 634.4,754.1 C636.4,753.5 638.5,752.8 640.6,752.9 C647.9,753.3 655.2,754.7 662.5,755.6" stroke-width="1.7" />
<path d="M662.5,755.6 L662.8,746.4" stroke-width="1.7" />
<path d="M662.8,746.4 L657.8,745.5" stroke-width="1.0" />
<path d="M632,755.3 C631.1,754.3 630.5,753.1 629.5,752.3 C627.8,750.7 625.5,749.9 624,748.3 C621.6,745.7 619.5,742.7 617.8,739.6 C615.8,736.1 614.1,732.4 612.9,728.5 C611.6,724.3 610.9,720 610.4,715.6 C610.3,714.5 610.6,713.4 611.1,712.5 C611.7,711.7 612.6,711 613.5,711 C614.4,710.9 615.4,711.5 615.9,712.2 C616.6,713.1 616.6,714.5 616.9,715.6 C617.4,717.8 617.7,720.2 618.4,722.4 C619.5,725.9 620.5,729.5 622.1,732.8 C623.8,736.3 625.5,740 628.3,742.7 C631,745.3 634.5,747.1 638.1,748.3 C641.1,749.2 644.3,749.4 647.4,749 C651,748.5 654.7,747.4 657.8,745.5 C661,743.6 663.7,740.8 665.9,737.8 C668.5,734 670.2,729.7 672,725.5 C673.7,721.4 675.3,717.4 676.3,713.1 C677.3,709.1 677.5,704.9 678.2,700.8 C678.4,699.6 678.4,698.2 679.1,697.1 C679.6,696.2 680.5,695.3 681.6,695.3 C682.5,695.2 683.8,695.9 684,696.8 C684.7,700.1 684.3,703.6 683.8,707 C683.2,711.6 682.2,716.1 680.6,720.5 C679,725.2 677.1,729.8 674.5,734.1 C672.3,737.7 669.4,740.9 666.5,743.9 C665.5,745 664,745.6 662.8,746.4" stroke-width="1.7" />
<path d="M620.9,716.2 C621.5,719.3 621.6,722.5 622.7,725.5 C623.9,728.7 625.5,732 627.7,734.7 C629.7,737.2 632.2,739.4 635,740.9 C637.9,742.2 641.1,742.9 644.3,742.8 C647.5,742.7 650.8,741.8 653.5,740.2 C656.7,738.4 659.3,735.7 661.5,732.8 C664.1,729.7 665.9,726 667.7,722.4 C669.6,718.4 671.3,714.3 672.6,710 C673.6,707 674.3,703.9 674.6,700.8 C674.7,700 674.5,698.9 673.9,698.3 C673.2,697.7 672.1,697.3 671.1,697.4 C670,697.5 668.7,698.1 668,699 C667.1,700.2 666.8,701.8 666.5,703.3 C665.8,706.5 665.9,709.9 665.2,713.1 C664.5,716.5 663.7,719.9 662.2,723 C660.7,725.9 659,728.8 656.6,731 C654.5,733 651.9,734.3 649.2,735.3 C647.7,735.9 645.9,736.1 644.3,735.9 C642.2,735.7 639.9,735.3 638.1,734.1 C636.1,732.7 634.5,730.7 633.2,728.5 C631.7,726.1 630.9,723.3 630.1,720.5 C629.4,718.1 629.3,715.6 628.8,713.1 C628.6,712.1 628.7,710.8 628,710 C627.1,709.1 625.8,708.3 624.6,708.3 C623.3,708.3 622,709.1 621.2,710 C620.5,710.8 620.4,712.1 620.4,713.1 C620.3,714.2 620.7,715.2 620.9,716.2Z" stroke-width="1.7" />
<path d="M634.4,696.5 C633.6,698.3 632.5,700.1 632,702 C631.3,704.6 630.9,707.4 631,710 C631.2,713.2 631.6,716.3 632.6,719.3 C633.6,722.2 634.9,725 636.9,727.3 C638.5,729.2 640.7,730.7 643.1,731.4 C645,732 647.3,731.7 649.2,731 C651.6,730.1 653.7,728.5 655.4,726.7 C657.4,724.5 659.1,722 660.3,719.3 C661.7,716.4 662.6,713.2 663.1,710 C663.6,707 663.6,703.9 663.4,700.8 C663.2,698.3 662.5,695.8 661.9,693.4 C661.5,692.2 660.8,691.2 660.3,690" stroke-width="1.7" />
<path d="M634.4,696.5 C626.6,698 618.9,700.1 611,701.1 C610.1,701.2 609.2,700.6 608.7,699.9 C608.1,699.1 608.2,698 607.9,697.1" stroke-width="1.7" />
<path d="M607.9,697.1 L608.4,675.5" stroke-width="1.7" />
<path d="M660.3,690 C667.7,688.4 675.2,687.1 682.5,685.1 C683.6,684.8 684.6,684.2 685.3,683.2 C685.9,682.3 685.9,681 686.2,679.9" stroke-width="1.7" />
<path d="M686.2,679.9 L686.2,660.8" stroke-width="1.7" />
<path d="M611,672.1 C634.3,666.7 657.4,660.7 680.9,656 C682.3,655.7 684.1,656.1 685.3,657.1 C686.3,658 686.4,659.6 686.6,661 C686.9,662.5 686.6,664 686.6,665.4" stroke-width="1.7" />
<path d="M611,672.1 C610.2,672.6 609.2,672.9 608.8,673.8 C608.2,674.9 608.2,676.3 608.2,677.6 C608.2,678.7 608.4,679.9 608.5,681" stroke-width="1.7" />
<path d="M609.7,682.7 C615.4,680.5 621.6,679.2 626.9,676.2 C629,675 629.9,672.6 631.2,670.6 C631.9,669.5 632.4,668.3 633,667.1" stroke-width="1.0" />
<path d="M609.7,690.4 C615.1,688.4 621,687.2 626.1,684.4 C628.4,683.1 629.5,680.3 631.2,678.4 C632.9,676.5 634.4,674.3 636.4,672.7 C637.1,672.2 638.1,672.5 639,672.3 C641,674 642.9,675.9 645,677.5 C646.1,678.2 647.2,679.2 648.5,679.2 C654.3,679.2 660.1,678.7 665.7,677.5 C668,677 670,675.5 671.8,674 C673.1,672.9 673.8,671.2 674.8,669.7" stroke-width="1.0" />
<path d="M642,666.3 C643.6,667.9 645,669.7 646.8,671 C647.7,671.7 649,672.3 650.2,672.3 C654.8,672.2 659.5,671.7 664,670.6 C665.6,670.2 667.2,669.3 668.3,668 C670.2,665.7 671.2,662.8 672.6,660.2" stroke-width="1.0" />
<path d="M609.7,697.3 C617.1,695 624.8,693.1 632.1,690.4 C633.7,689.8 634.7,687.8 636.4,687.4 C648.3,684.4 660.8,683.6 672.6,680.1 C674.3,679.6 674.6,677.2 675.7,675.8 L675.7,658.5" stroke-width="1.0" />
<ellipse cx="644.4" cy="517.7" rx="14.4" ry="22.7" transform="rotate(6 644.4 517.7)" stroke-width="1.0" fill="#fff"/>
<ellipse cx="644.4" cy="517.7" rx="13.4" ry="21.1" transform="rotate(6 644.4 517.7)" stroke-width="1.0" fill="#fff"/>
<path d="M645.5,511.6 L650.5,515.5 L649.4,523.3 L644.4,527.2 L640.5,522.7 L641.3,515.5 L645.5,511.6Z" stroke-width="1.0" />
<ellipse cx="646.6" cy="707.6" rx="15" ry="22.2" transform="rotate(6 646.6 707.6)" stroke-width="1.0" fill="#fff"/>
<ellipse cx="646.6" cy="707.6" rx="13.9" ry="20.6" transform="rotate(6 646.6 707.6)" stroke-width="1.0" fill="#fff"/>
<path d="M647.4,699.3 L652.3,703.1 L651.2,710.9 L646.2,714.8 L642.4,710.4 L643.1,703.1 L647.4,699.3Z" stroke-width="1.0" />
<path d="M663.1,571.4 C661.1,570 659.4,568 657.1,567.1 C654.4,566 651.3,565.2 648.5,565.8 C643.3,566.9 637.9,568.8 633.8,572.3 C628.4,576.9 623.8,582.9 620.9,589.5 C617.3,597.6 615.5,606.6 615,615.4 C614.6,622.6 615.9,630.1 618.3,636.9 C620.3,642.7 623.7,648 627.8,652.5 C631.1,656.1 635.4,658.8 639.9,660.7 C642.5,661.8 645.6,660.8 648.5,660.9" stroke-width="1.0" />
<path d="M663.1,571.4 L663.1,574.4 L668.3,575.3 L668.3,570.5 C671.2,572.8 674.5,574.6 676.9,577.4 C680.1,581 682.2,585.4 684.7,589.5 C685.8,591.2 686.7,593.1 687.7,594.9" stroke-width="1.0" />
<path d="M670,655.9 C672.6,653.3 675.6,651 677.8,648.2 C680.2,645.1 681.8,641.5 683.8,638.2" stroke-width="1.0" />
<path d="M643.3,572.5 C640.1,575.3 636.4,577.6 633.8,580.9 C630.3,585.3 627.2,590.3 625.2,595.5 C622.7,601.9 620.9,608.6 620.4,615.4 C620,621.2 621.1,627 622.6,632.6 C624.1,638.1 626.3,643.5 629.5,648.2 C632.2,652 636.1,654.9 639.9,657.6 C641.9,659.1 644.5,659.7 646.8,660.7" stroke-width="1.7" />
<path d="M644.6,573.5 C641.6,576.6 638.1,579.2 635.5,582.6 C632.3,586.9 629.3,591.4 627.3,596.4 C624.9,602.5 623,608.9 622.4,615.4 C622,620.9 623.1,626.5 624.5,631.8 C625.9,636.9 627.9,642 630.8,646.4 C633.2,650.2 636.8,653.1 640.3,655.9 C642.5,657.6 645.2,658.5 647.6,659.8" stroke-width="1.0" />
<path d="M648.5,574.7 C645,579.6 641.1,584.3 638.1,589.5 C635,595 632.3,600.7 630.4,606.8 C629.1,610.9 628.5,615.3 628.6,619.7 C628.8,624.7 629.7,629.7 631.2,634.4 C632.9,639.2 635.2,643.9 638.1,648.2 C640.4,651.5 643.9,653.9 646.8,656.8 C647.7,657.7 648.5,658.8 649.3,659.8" stroke-width="1.0" />
<path d="M643.3,572.5 L648,574.4 L648.5,580.4 C652.5,578.4 656.2,575.6 660.6,574.4 C662.8,573.8 665.2,575.1 667.5,575.4" stroke-width="1.0" />
<path d="M648.5,580.4 C650.8,579.2 652.8,577.2 655.4,576.7 C658.2,576.2 661.4,576.4 664,577.6 C667.3,579.1 670.2,581.6 672.6,584.3 C674.9,586.9 676.2,590.2 678,593.1" stroke-width="1.0" />
<path d="M650.2,580.9 C652.5,580.1 654.7,578.7 657.1,578.5 C659.7,578.2 662.5,578.4 664.9,579.6 C668.5,581.3 671.4,584.2 674.4,586.9 C676.6,588.9 678.4,591.4 680.4,593.6" stroke-width="1.0" />
<path d="M635.5,630 C637,633.8 637.8,637.8 639.9,641.3 C641.6,644.2 644,647 646.8,649 C649.3,650.9 652.3,652.5 655.4,652.6 C658.4,652.8 661.4,651.4 664,649.9 C666.7,648.4 668.8,646.1 670.9,643.8 C672.9,641.7 674.4,639.2 676.1,636.9" stroke-width="1.0" />
<path d="M638.1,630.9 C639.4,634.1 640.2,637.5 642,640.4 C643.6,643 645.6,645.5 648,647.3 C650.3,649 653,650.4 655.8,650.6 C658.5,650.7 661.2,649.5 663.6,648.2 C666,646.8 667.8,644.6 669.6,642.6 C671.3,640.7 672.5,638.5 673.9,636.5" stroke-width="1.0" />
<path d="M649.3,654.6 L649.3,659.8" stroke-width="1.0" />
<path d="M649.3,654.6 C651.4,655.5 653.2,657.1 655.4,657.2 C658,657.4 660.7,656.6 663.1,655.5 C665.4,654.5 667.2,652.6 669.2,651.2 L669.2,657.6 L663.1,655.5" stroke-width="1.0" />
<path d="M644.2,589.9 L722.7,600 L700.7,605.9 L639.4,597.3Z" stroke-width="1.0" fill="#fff"/>
<path d="M639.4,597.3 L700.7,605.9 L700.4,640.4 L635.5,630 L633,627.9 L633,614.5 L635.5,612.8Z" stroke-width="1.0" fill="#fff"/>
<path d="M700.7,605.9 L722.7,600 L723.3,606.1 L724.2,633.1 L724,635.2 L700.4,640.4Z" stroke-width="1.0" fill="#fff"/>
<path d="M700.7,605.9 L706.3,610.2 L723.3,606.1" stroke-width="1.0" />
<path d="M706.3,610.2 L706.4,634.8 L700.4,640.4" stroke-width="1.0" />
<path d="M706.4,634.8 L724.2,633.1" stroke-width="1.0" />
</g>
<path d="M1623.2,482.2 L1664.2,488.9 C1667.9,490 1671.9,490.5 1675.3,492.2 C1679.4,494.2 1683.2,496.8 1686.4,499.9 C1690.3,503.9 1693.7,508.4 1696.4,513.3 C1698.9,517.7 1700.7,522.7 1701.9,527.7 C1703.4,533.5 1704.1,539.5 1704.7,545.4 C1705.4,552 1705.5,558.7 1705.8,565.4 L1706.9,707.6 C1706.6,715 1706.7,722.5 1705.8,729.8 C1705,736.5 1703.9,743.3 1701.9,749.8 C1700,756.3 1697.4,762.7 1694.2,768.6 C1691.1,774.2 1687.4,779.5 1683.1,784.2 C1679.2,788.4 1674.6,792.1 1669.8,795.2 C1665.7,797.9 1661.1,799.8 1656.5,801.3 C1653.6,802.3 1650.6,802.1 1647.6,802.5 L1605.5,795.8 C1602.5,794.5 1599.3,793.7 1596.6,791.9 C1592.9,789.4 1589.4,786.5 1586.6,783 C1583.4,779 1580.8,774.5 1578.8,769.7 C1576.5,764.1 1575,758 1573.8,752 C1572.7,746.2 1572.7,740.2 1572.2,734.3 C1572,675.7 1571.3,617.2 1571.6,558.7 C1571.7,553.2 1572.2,547.6 1573.3,542.1 C1574.6,535.7 1576.4,529.3 1578.8,523.2 C1581.2,517.4 1584.2,511.8 1587.7,506.6 C1591.2,501.4 1595.2,496.4 1599.9,492.2 C1603.5,488.9 1607.7,486.3 1612.1,484.4 C1615.6,482.9 1619.5,482.9 1623.2,482.2Z" stroke-width="2.4" fill="#fff"/>
<path d="M1693.1,508.3 C1690.9,506 1688.9,503.5 1686.4,501.6 C1683.3,499.4 1680,497.3 1676.4,496.1 C1672.9,494.9 1669.1,494.3 1665.3,494.4 C1661.6,494.5 1657.7,495.1 1654.3,496.6 C1649.8,498.5 1645.6,501.1 1642.1,504.4 C1637.8,508.3 1634.1,512.8 1631,517.7 C1627.4,523.3 1624.5,529.3 1622.1,535.4 C1619.7,541.5 1617.8,547.9 1616.5,554.3 C1615.5,559.4 1615.7,564.6 1615.2,569.8 L1617.1,740.9 C1618,747.6 1618.2,754.4 1619.9,760.9 C1621.4,766.7 1623.5,772.3 1626.5,777.5 C1629.2,782.1 1632.5,786.3 1636.5,789.7 C1639.7,792.5 1643.6,794.4 1647.6,795.8 C1651.1,797 1655,797.7 1658.7,797.5 C1662.5,797.2 1666.3,795.9 1669.8,794.1 C1673.8,792.1 1677.5,789.4 1680.9,786.4 C1684.6,783.1 1687.5,779 1690.9,775.3" stroke-width="1.8" />
<path d="M1652,601.1 C1650.7,602.5 1649.5,603.9 1648.3,605.3 C1646.2,607.8 1643.9,610.1 1642.1,612.7 C1639.8,616.1 1637.6,619.5 1635.9,623.2 C1634.1,627.2 1632.7,631.3 1631.6,635.5 C1630.6,639.6 1629.9,643.7 1629.5,647.8 C1629.2,651.1 1629.2,654.4 1629.5,657.7 C1629.8,660.8 1630.3,664 1631.3,666.9 C1632.3,670 1633.7,672.9 1635.3,675.6 C1636.9,678.2 1638.9,680.6 1640.9,683 C1642.8,685.3 1644.8,687.7 1647,689.7 C1648.9,691.4 1651.1,692.7 1653.2,694.2 L1653.5,687.6 C1655,687.7 1656.6,688.1 1658.1,687.9 C1659.8,687.7 1661.5,687.1 1663.1,686.4 C1664.6,685.6 1665.8,684.2 1667.4,683.6 C1668.4,683.2 1669.6,683.4 1670.8,683.3 L1670.5,689.1 C1672.9,687.5 1675.7,686.2 1677.8,684.2 C1680.4,681.8 1682.7,679.1 1684.6,676.2 C1686.9,672.7 1688.7,669 1690.2,665.1 C1691.6,661.1 1692.6,657 1693.3,652.8 C1693.9,648.7 1694,644.6 1694,640.5 C1693.9,637.1 1693.6,633.8 1692.9,630.6 C1692.1,626.4 1691.1,622.2 1689.6,618.3 C1688.1,614.6 1686.3,611 1684,607.8 C1682,605 1679.5,602.4 1676.6,600.4 C1674.4,598.9 1671.7,598.3 1669.2,597.3 L1668.9,604.1 C1667.4,603.9 1665.8,603.4 1664.3,603.5 C1662.2,603.6 1660.1,603.9 1658.1,604.7 C1656.1,605.5 1654.4,607 1652.6,608.1 L1652,601.1Z" stroke-width="1.8" />
<path d="M1648.3,605.8 L1647.7,607.5 L1652.6,608.3" stroke-width="1.8" />
<path d="M1669.8,599.3 C1671.9,600.7 1674.2,601.8 1676,603.5 C1678.3,605.7 1680.5,608.1 1682.2,610.9 C1684.1,614.1 1685.6,617.7 1686.8,621.4 C1687.9,624.8 1688.7,628.3 1689.2,631.8 C1689.7,634.7 1689.9,637.6 1689.9,640.5 C1689.8,644.2 1689.6,647.9 1688.9,651.5 C1688.2,655.5 1687.3,659.5 1685.9,663.3 C1684.6,666.7 1682.9,670 1680.9,673.1 C1679.2,675.8 1677,678.2 1674.8,680.5 C1673.6,681.7 1672.1,682.6 1670.8,683.6" stroke-width="1.0" />
<path d="M1648.8,692.5 L1648.6,685.7 C1649.7,686 1650.8,686.6 1652,686.7 C1654,686.7 1656.1,686.5 1658.1,686 C1660.3,685.5 1662.4,684.7 1664.3,683.6 C1665.1,683.1 1665.5,682.1 1666.1,681.4 L1670.8,683.1" stroke-width="1.8" />
<text transform="matrix(0.6145 -0.1443 0 1 1645.6 521.6)" font-size="19.36" x="0" y="0" stroke="none">PUSH</text>
<text transform="matrix(0.6182 -0.1467 0 1 1645.9 791.4)" font-size="19.05" x="0" y="0" stroke="none">PUSH</text>
<path d="M1529.5,540.3 L1590.4,548.6" stroke-width="2.05" stroke-dasharray="7.4 2.8" stroke-linecap="butt"/>
<path d="M1501.2,535.6 L1528.8,530.3 L1526.2,549.6 Z" fill="#231f20" stroke="none"/>
<path d="M1529.5,726.9 L1590.4,734.9" stroke-width="2.05" stroke-dasharray="7.4 2.8" stroke-linecap="butt"/>
<path d="M1501.2,723.6 L1528.8,717 L1526.2,735.9 Z" fill="#231f20" stroke="none"/>
</g>
<!--/S2-->
<!--BOX2-->
<g id="box2" class="k" stroke-width="2.45">
<rect x="1843.6" y="357" width="415.2" height="266.8" stroke-width="1.15" stroke-linejoin="miter"/>
<polyline points="1926.2,397.7 1942.9,414.9 1986,373.1" stroke-width="5.6"/>
<path d="M2125,373.1 L2167.1,415.1 M2167.1,373.1 L2125,415.1" stroke-width="5.6"/>
<path d="M1886.8,576.2 V506.7 A69.55,69.55 0 0 1 2025.9,506.7 V576.2" stroke-linecap="butt"/>
<path d="M1886.8,582.9 V594.5 M1886.8,600.2 V608.1 M2025.9,582.9 V594.5 M2025.9,600.2 V608.1"/>
<path d="M2076.8,576.2 V506.7 A69.55,69.55 0 0 1 2215.9,506.7 V576.2" stroke-linecap="butt"/>
<path d="M2076.8,582.9 V594.5 M2076.8,600.2 V608.1 M2215.9,582.9 V594.5 M2215.9,600.2 V608.1"/>
</g>
<text transform="translate(1922.10,478.1) scale(0.9485,1)" font-size="25.6" stroke="#231f20" stroke-width="1.0">PUSH</text>
<text transform="translate(2180.00,459.8) rotate(180) scale(0.9485,1)" font-size="25.6" stroke="#231f20" stroke-width="1.0">PUSH</text>

<!--/BOX2-->
<!--S3-->
<g id="s3" class="k">
<line x1="187.6" y1="1050.6" x2="187.6" y2="1555.7" stroke="#a6a6a6" stroke-width="1.0" stroke-linecap="butt"/><line x1="206.2" y1="1050.6" x2="206.2" y2="1555.7" stroke="#4c4c4c" stroke-width="1.15" stroke-linecap="butt"/><line x1="373.3" y1="1050.6" x2="373.3" y2="1555.7" stroke="#4c4c4c" stroke-width="1.15" stroke-linecap="butt"/>
<path d="M297.6,1136.1 C293.9,1135.5 290.3,1134.3 286.5,1134.2 C282.8,1134.1 279,1134.4 275.5,1135.5 C270.7,1137.1 266,1139.1 262.1,1142.2 C257,1146.2 252.6,1151.2 248.8,1156.6 C244.8,1162.4 241.3,1168.8 238.9,1175.5 C236.3,1182.6 234.9,1190.1 233.9,1197.6 C232.9,1205 232.8,1212.4 232.8,1219.8 C232.6,1238.3 233,1256.8 233.1,1275.3 C233.2,1295 233.4,1314.7 233.5,1334.4 C233.6,1345.5 233.6,1356.5 233.9,1367.6 C234.1,1375 234,1382.5 235,1389.8 C236,1397.3 237.5,1404.8 240,1412 C242.1,1418.2 245.2,1424.2 248.8,1429.7 C251.9,1434.3 255.6,1438.5 259.9,1441.9 C263.2,1444.5 267.1,1446.1 271,1447.5 C274.6,1448.8 278.4,1449.1 282.1,1449.9 Z" stroke-width="1.8" fill="#fff"/>
<path d="M297.6,1136.6 C295.4,1136.3 293.2,1135.5 291,1135.5 C288,1135.5 284.9,1135.6 282.1,1136.6 C277.8,1138.2 273.6,1140.4 269.9,1143.3 C265,1147.2 260.3,1151.5 256.6,1156.6 C252.4,1162.4 249.1,1168.8 246.6,1175.5 C243.9,1182.6 242.3,1190.1 241.1,1197.6 C239.9,1205 239.5,1212.4 239.4,1219.8 C239.1,1238.3 239.6,1256.8 239.7,1275.3 C239.9,1295 240,1314.7 240.2,1334.4 C240.3,1345.5 240.1,1356.6 240.5,1367.6 C240.8,1375 241.1,1382.5 242.2,1389.8 C243.2,1396.6 244.3,1403.4 246.6,1409.8 C248.8,1416 251.8,1422 255.5,1427.5 C258.5,1432.1 262.5,1436 266.6,1439.7 C269.9,1442.7 273.7,1445.4 277.7,1447.5 C280.4,1448.9 283.6,1449.3 286.5,1450.3" stroke-width="1.8" />
<path d="M299.6,1135.4 L340.6,1142.1 C344.3,1143.2 348.3,1143.7 351.7,1145.4 C355.8,1147.4 359.6,1150 362.8,1153.1 C366.7,1157.1 370.1,1161.6 372.8,1166.5 C375.3,1170.9 377.1,1175.9 378.3,1180.9 C379.8,1186.7 380.5,1192.7 381.1,1198.6 C381.8,1205.2 381.9,1211.9 382.2,1218.6 L383.3,1360.8 C383,1368.2 383.1,1375.7 382.2,1383 C381.4,1389.7 380.3,1396.5 378.3,1403 C376.4,1409.5 373.8,1415.9 370.6,1421.8 C367.5,1427.4 363.8,1432.7 359.5,1437.4 C355.6,1441.6 351,1445.3 346.2,1448.4 C342.1,1451.1 337.5,1453 332.9,1454.5 C330,1455.5 327,1455.3 324,1455.7 L281.9,1449 C278.9,1447.7 275.7,1446.9 273,1445.1 C269.3,1442.6 265.8,1439.7 263,1436.2 C259.8,1432.2 257.2,1427.7 255.2,1422.9 C252.9,1417.3 251.4,1411.2 250.2,1405.2 C249.1,1399.4 249.1,1393.4 248.6,1387.5 C248.4,1328.9 247.7,1270.4 248,1211.9 C248.1,1206.4 248.6,1200.8 249.7,1195.3 C251,1188.9 252.8,1182.5 255.2,1176.4 C257.6,1170.6 260.6,1165 264.1,1159.8 C267.6,1154.6 271.6,1149.6 276.3,1145.4 C279.9,1142.1 284.1,1139.5 288.5,1137.6 C292,1136.1 295.9,1136.1 299.6,1135.4Z" stroke-width="2.4" fill="#fff"/>
<path d="M369.5,1161.5 C367.3,1159.2 365.3,1156.7 362.8,1154.8 C359.7,1152.6 356.4,1150.5 352.8,1149.3 C349.3,1148.1 345.5,1147.5 341.7,1147.6 C338,1147.7 334.1,1148.3 330.7,1149.8 C326.2,1151.7 322,1154.3 318.5,1157.6 C314.2,1161.5 310.5,1166 307.4,1170.9 C303.8,1176.5 300.9,1182.5 298.5,1188.6 C296.1,1194.7 294.2,1201.1 292.9,1207.5 C291.9,1212.6 292.1,1217.8 291.6,1223 L293.5,1394.1 C294.4,1400.8 294.6,1407.6 296.3,1414.1 C297.8,1419.9 299.9,1425.5 302.9,1430.7 C305.6,1435.3 308.9,1439.5 312.9,1442.9 C316.1,1445.7 320,1447.6 324,1449 C327.5,1450.2 331.4,1450.9 335.1,1450.7 C338.9,1450.4 342.7,1449.1 346.2,1447.3 C350.2,1445.3 353.9,1442.6 357.3,1439.6 C361,1436.3 363.9,1432.2 367.3,1428.5" stroke-width="1.8" />
<text transform="matrix(0.6145 -0.1443 0 1 322 1174.8)" font-size="19.36" x="0" y="0" stroke="none">PUSH</text>
<text transform="matrix(0.6182 -0.1467 0 1 322.3 1444.6)" font-size="19.05" x="0" y="0" stroke="none">PUSH</text>
<path d="M327.2,1254.4 C324,1257.7 320.4,1260.6 317.7,1264.4 C314.6,1268.8 311.9,1273.7 310,1278.8 C307.8,1284.5 306.3,1290.5 305.5,1296.5 C304.8,1302.4 304.7,1308.4 305.5,1314.3 C306.2,1319.6 307.6,1325 310,1329.8 C312.1,1334.3 315.1,1338.6 318.8,1342 C321.6,1344.5 325.5,1345.3 328.8,1347 L328.3,1338.1 C331,1338.5 333.8,1339.7 336.6,1339.2 C339.8,1338.7 342.5,1336.7 345.5,1335.4 L345.5,1342.6 C348.4,1339.8 351.7,1337.3 354.3,1334.3 C356.9,1331.2 359.2,1327.8 361,1324.3 C363.7,1318.9 366,1313.4 367.6,1307.6 C369,1302.6 369.9,1297.3 369.9,1292.1 C369.9,1287.6 368.9,1283.1 367.6,1278.8 C366.3,1274.5 364.4,1270.4 362.1,1266.6 C359.9,1263 357.4,1259.5 354.3,1256.6 C351.6,1254.1 348,1252.8 344.9,1250.9 L344.3,1257.5 C341,1257.6 337.5,1256.7 334.4,1257.7 C331.3,1258.7 329.2,1261.4 326.6,1263.3 L327.2,1254.4Z" stroke-width="1.8" fill="#fff"/>
<path d="M326.6,1263.3 C323.6,1267 320.1,1270.2 317.7,1274.4 C315.2,1278.8 313.3,1283.8 312.2,1288.8 C310.9,1294.2 310.3,1299.8 310.5,1305.4 C310.7,1310.7 311.5,1316 313.3,1320.9 C314.7,1325 317.1,1328.8 319.9,1332 C322.2,1334.6 325.5,1336.1 328.3,1338.1" stroke-width="1.0" />
<path d="M325.5,1261.6 C322.5,1265.3 319,1268.6 316.6,1272.7 C313.9,1277.4 311.8,1282.4 310.5,1287.7 C309,1293.4 308.2,1299.5 308.3,1305.4 C308.4,1311 309.2,1316.7 311.1,1322.1 C312.6,1326.5 315.2,1330.7 318.3,1334.3 C320.8,1337.1 324.6,1338.7 327.7,1340.9" stroke-width="1.0" />
<path d="M326.6,1263.3 C329.2,1262.9 331.7,1262.2 334.4,1262.2 C337.3,1262.2 340.5,1262.1 343.2,1263.3 C346.6,1264.8 349.6,1267.2 352.1,1269.9 C354.5,1272.5 356.2,1275.6 357.7,1278.8 C359.2,1282.3 359.9,1286.2 361,1289.9" stroke-width="1.0" />
<path d="M328.8,1265.3 C331.4,1265 334,1264.3 336.6,1264.4 C339.2,1264.5 342,1264.8 344.3,1266 C347.2,1267.6 349.5,1270.2 351.6,1272.7 C353.4,1275 354.5,1277.9 356,1280.5" stroke-width="1.0" />
<path d="M313.8,1314.3 C315.5,1318.4 316.3,1322.9 318.8,1326.5 C321.1,1329.7 324.1,1332.8 327.7,1334.3 C330.8,1335.5 334.5,1335.2 337.7,1334.3 C341,1333.3 343.9,1331 346.6,1328.7 C349.1,1326.5 351,1323.5 353.2,1320.9" stroke-width="1.0" />
<path d="M316.6,1315.4 C318.1,1318.7 318.9,1322.5 321.1,1325.4 C323.1,1328.1 325.7,1330.7 328.8,1331.8 C331.6,1332.8 334.9,1332.4 337.7,1331.5 C340.6,1330.5 343.1,1328.5 345.5,1326.5 C347.6,1324.7 349.1,1322.4 351,1320.4" stroke-width="1.0" />
<path d="M322.7,1273.3 L400.4,1283.5 L378.7,1288.8 L317.7,1280.5Z" stroke-width="1.0" fill="#fff"/>
<path d="M317.7,1280.5 L378.7,1288.8 L378.7,1323.2 L313.8,1313.2 L311.6,1311 L311.6,1297.7 L313.8,1295.4Z" stroke-width="1.0" fill="#fff"/>
<path d="M378.7,1288.8 L400.4,1283.5 L400.9,1316.5 L400.4,1318.2 L378.7,1323.2Z" stroke-width="1.0" fill="#fff"/>
<path d="M378.7,1288.8 L384.3,1293.8 L400.4,1289.3" stroke-width="1.0" />
<path d="M384.3,1293.8 L384.8,1319.8 L378.7,1323.2" stroke-width="1.0" />
<path d="M384.8,1319.8 L400.9,1316.5" stroke-width="1.0" />
<path d="M457.6,1319.8 L461.2,1319.1 L461,1332.3 L457.6,1331.5Z" stroke-width="1.0" fill="#fff"/>
<ellipse cx="0" cy="0" rx="0" ry="0"/>
<ellipse cx="496.2" cy="1318.9" rx="33.5" ry="51.2" transform="rotate(8 496.2 1318.9)" stroke-width="1.8" fill="#fff"/>
<ellipse cx="497.8" cy="1318.9" rx="31.3" ry="49" transform="rotate(8 497.8 1318.9)" stroke-width="1.0"/>
<ellipse cx="498.4" cy="1318.9" rx="24.2" ry="37.2" transform="rotate(8 498.4 1318.9)" stroke-width="1.9"/>
<ellipse cx="497.3" cy="1319.3" rx="21.7" ry="34.6" transform="rotate(8 497.3 1319.3)" stroke-width="1.0"/>
<path d="M514.2,1307.6 L518.1,1307.1 L517.7,1318.7 L514.2,1318.2Z" stroke-width="1.0" fill="#fff"/>
<path d="M402.7,1291.6 L468.7,1301.5" stroke-width="2.05" stroke-dasharray="7.4 2.8" stroke-linecap="butt"/>
<path d="M480.4,1303.4 L520.9,1309.4" stroke-width="2.05" stroke-dasharray="7.4 2.8" stroke-linecap="butt"/>
<path d="M349.9,1299.9 L462.1,1317.6" stroke-width="2.05" stroke-dasharray="7.4 2.8" stroke-linecap="butt"/>
<path d="M322.2,1296 L348.4,1290.4 L345.5,1308.7 Z" fill="#231f20" stroke="none"/>
</g>
<!--/S3-->
<!--BOX3-->
<g id="box3" class="k" stroke-width="1.3" stroke-linejoin="miter" stroke-linecap="butt">
<rect x="654.6" y="1111.8" width="415.2" height="266.9"/>
<path d="M758.4,1111.8 V1141.5 M758.4,1147.1 V1342.7 M758.4,1350 V1368.7 M758.4,1372 V1378.7" stroke-width="1.1"/>
<path d="M966,1111.8 V1141.5 M966,1147.1 V1342.7 M966,1350 V1368.7 M966,1372 V1378.7" stroke-width="1.1"/>
<path d="M840.4,1169.7 V1182.2 A66.9,66.9 0 0 1 883.4,1182.2 V1169.7 A78.9,78.9 0 0 1 883.4,1321.5 V1309.0 A66.9,66.9 0 0 1 840.4,1309.0 V1321.5 A78.9,78.9 0 0 1 840.4,1169.7" stroke-width="0.9"/>
<path d="M804.2,1232.3 H796.4 V1258.9 H804.2 A59.2,59.2 0 0 0 919.6,1258.9 H927.6 V1232.3 H919.6 A59.2,59.2 0 0 0 804.2,1232.3" stroke-width="2.8"/>
<path d="M696.5,1225.6 L735.1,1225.6 L735.1,1208 L789,1247.3 L735.1,1286.2 L735.1,1267.9 L696.5,1267.9 Z" stroke-width="3.1"/>
<path d="M1027.9,1224.6 L990,1224.6 L990,1208 L935.4,1246.3 L990,1286.2 L990,1267.9 L1027.9,1267.9 Z" stroke-width="3.1"/>
</g>
<!--/BOX3-->
<!--S4-->
<g id="s4" class="k">
<line x1="1549.4" y1="1050.8" x2="1549.4" y2="1555.7" stroke="#c4c4c4" stroke-width="1.0" stroke-linecap="butt"/><line x1="1560.9" y1="1050.8" x2="1560.9" y2="1555.7" stroke="#a6a6a6" stroke-width="1.0" stroke-linecap="butt"/><line x1="1669.6" y1="1050.8" x2="1669.6" y2="1555.7" stroke="#8a8a8a" stroke-width="1.0" stroke-linecap="butt"/>
<path d="M1620.5,1058.1 C1618.1,1057.7 1615.7,1056.9 1613.3,1056.9 C1610.9,1056.8 1608.4,1057 1606.1,1057.7 C1603.1,1058.7 1600.1,1060.1 1597.5,1062.1 C1594.2,1064.7 1591.4,1068 1588.9,1071.5 C1586.3,1075.3 1584.1,1079.5 1582.5,1083.8 C1580.8,1088.5 1579.9,1093.4 1579.3,1098.4 C1578.6,1103.1 1578.6,1108 1578.6,1112.9 C1578.4,1124.9 1578.7,1137 1578.8,1149.1 C1578.9,1162 1579,1174.9 1579.1,1187.8 C1579.1,1195 1579.1,1202.3 1579.3,1209.5 C1579.4,1214.4 1579.3,1219.2 1580,1224 C1580.7,1228.9 1581.6,1233.9 1583.2,1238.5 C1584.6,1242.6 1586.6,1246.5 1588.9,1250.2 C1590.9,1253.1 1593.3,1255.9 1596.1,1258.1 C1598.2,1259.8 1600.8,1260.8 1603.3,1261.8 C1605.6,1262.6 1608.1,1262.8 1610.4,1263.4 Z" stroke-width="1.8" fill="#fff"/>
<path d="M1620.5,1058.5 C1619,1058.2 1617.6,1057.7 1616.2,1057.7 C1614.2,1057.7 1612.2,1057.8 1610.4,1058.5 C1607.6,1059.5 1604.9,1060.9 1602.6,1062.8 C1599.4,1065.3 1596.3,1068.2 1594,1071.5 C1591.3,1075.3 1589.1,1079.5 1587.5,1083.8 C1585.8,1088.5 1584.7,1093.4 1583.9,1098.4 C1583.2,1103.1 1582.9,1108 1582.9,1112.9 C1582.7,1124.9 1583,1137 1583.1,1149.1 C1583.2,1162 1583.3,1174.9 1583.4,1187.8 C1583.4,1195 1583.3,1202.3 1583.6,1209.5 C1583.7,1214.4 1584,1219.2 1584.6,1224 C1585.3,1228.4 1586,1232.9 1587.5,1237.1 C1588.9,1241.2 1590.9,1245.1 1593.2,1248.7 C1595.2,1251.7 1597.8,1254.3 1600.4,1256.7 C1602.6,1258.7 1605,1260.4 1607.6,1261.8 C1609.3,1262.7 1611.4,1263 1613.3,1263.6" stroke-width="1.8" />
<path d="M1621.7,1057.7 L1648.2,1062 C1650.6,1062.7 1653.2,1063.1 1655.4,1064.2 C1658,1065.5 1660.5,1067.2 1662.6,1069.3 C1665.1,1071.8 1667.3,1074.8 1669,1078 C1670.7,1080.9 1671.8,1084.1 1672.6,1087.4 C1673.6,1091.2 1674,1095.1 1674.4,1099 C1674.8,1103.3 1674.9,1107.7 1675.1,1112.1 L1675.8,1205.1 C1675.6,1209.9 1675.7,1214.8 1675.1,1219.6 C1674.6,1224 1673.9,1228.4 1672.6,1232.6 C1671.3,1236.9 1669.7,1241.1 1667.6,1245 C1665.6,1248.6 1663.2,1252.1 1660.4,1255.1 C1657.9,1257.9 1655,1260.3 1651.8,1262.4 C1649.2,1264.1 1646.2,1265.4 1643.2,1266.4 C1641.4,1267 1639.4,1266.9 1637.5,1267.1 L1610.3,1262.7 C1608.4,1261.9 1606.3,1261.4 1604.5,1260.2 C1602.2,1258.6 1599.9,1256.7 1598.1,1254.4 C1596,1251.8 1594.3,1248.8 1593.1,1245.7 C1591.6,1242 1590.6,1238 1589.9,1234.1 C1589.2,1230.3 1589.1,1226.4 1588.8,1222.5 C1588.7,1184.2 1588.2,1146 1588.4,1107.7 C1588.4,1104.1 1588.8,1100.4 1589.5,1096.8 C1590.3,1092.6 1591.5,1088.5 1593.1,1084.5 C1594.6,1080.7 1596.5,1077 1598.8,1073.6 C1601.1,1070.2 1603.7,1067 1606.7,1064.2 C1609,1062.1 1611.7,1060.3 1614.6,1059.1 C1616.8,1058.1 1619.4,1058.1 1621.7,1057.7Z" stroke-width="2.4" fill="#fff"/>
<path d="M1666.9,1074.7 C1665.4,1073.2 1664.2,1071.6 1662.6,1070.3 C1660.6,1068.9 1658.5,1067.5 1656.1,1066.7 C1653.8,1065.9 1651.4,1065.6 1649,1065.6 C1646.5,1065.7 1644,1066.1 1641.8,1067.1 C1638.9,1068.3 1636.2,1070 1633.9,1072.2 C1631.1,1074.7 1628.8,1077.7 1626.8,1080.9 C1624.4,1084.5 1622.6,1088.4 1621,1092.5 C1619.5,1096.5 1618.3,1100.6 1617.4,1104.8 C1616.8,1108.1 1616.9,1111.6 1616.6,1115 L1617.8,1226.8 C1618.4,1231.2 1618.5,1235.6 1619.6,1239.9 C1620.6,1243.7 1622,1247.4 1623.9,1250.8 C1625.6,1253.8 1627.8,1256.5 1630.3,1258.8 C1632.4,1260.6 1634.9,1261.8 1637.5,1262.7 C1639.8,1263.6 1642.3,1264 1644.7,1263.8 C1647.2,1263.6 1649.6,1262.8 1651.8,1261.7 C1654.4,1260.3 1656.8,1258.5 1659,1256.6 C1661.4,1254.4 1663.3,1251.7 1665.4,1249.3" stroke-width="1.8" />
<text transform="matrix(0.6069 -0.1443 0 1 1636.2 1083.4)" font-size="12.66" x="0" y="0" stroke="none">PUSH</text>
<text transform="matrix(0.6106 -0.1467 0 1 1636.4 1259.8)" font-size="12.46" x="0" y="0" stroke="none">PUSH</text>
<ellipse cx="1645.4" cy="1164.2" rx="22.4" ry="33.3" transform="rotate(8 1645.4 1164.2)" stroke-width="2.0" fill="#fff"/>
<ellipse cx="1646.2" cy="1164.4" rx="20.5" ry="31.4" transform="rotate(8 1646.2 1164.4)" stroke-width="1.0" fill="none"/>
<ellipse cx="1646.7" cy="1164.2" rx="15.3" ry="23.8" transform="rotate(8 1646.7 1164.2)" stroke-width="2.0" fill="none"/>
<ellipse cx="1647.6" cy="1164.4" rx="13.5" ry="22" transform="rotate(8 1647.6 1164.4)" stroke-width="1.0" fill="none"/>
<path d="M1638.7,1148.7 L1686.4,1154.2 L1672,1159.2 L1634.3,1153.1Z" stroke-width="1.0" fill="#fff"/>
<path d="M1634.3,1153.1 L1672,1159.2 L1672.5,1180.3 L1633.2,1174.2Z" stroke-width="1.0" fill="#fff"/>
<path d="M1672,1159.2 L1686.4,1154.2 L1687.5,1175.9 L1672.5,1180.3Z" stroke-width="1.0" fill="#fff"/>
<path d="M1672,1159.2 L1675.9,1162 L1686.6,1158.7" stroke-width="1.0" />
<path d="M1675.9,1162 L1676.2,1178.1" stroke-width="1.0" />
<path d="M1708.3,1169.6 L1766.5,1178.7" stroke-width="2.05" stroke-dasharray="7.4 2.8" stroke-linecap="butt"/>
<path d="M1680.3,1165.3 L1706.9,1160 L1704.1,1178.6 Z" fill="#231f20" stroke="none"/>
<path d="M1785.7,1159.6 C1784.8,1159.7 1783.9,1159.5 1783.2,1159.9 C1779.7,1161.9 1775.6,1163.4 1773.2,1166.6 C1770.3,1170.4 1768.5,1175.2 1768.2,1179.9 C1767.9,1185 1769.2,1190.3 1771.5,1194.9 C1773.2,1198.2 1776.6,1200.5 1779.8,1202.4 C1781.5,1203.4 1783.7,1202.9 1785.7,1203.2" stroke-width="0.9" fill="#fff"/>
<path d="M1781.2,1161.9 C1778.8,1165.7 1774.9,1168.9 1774,1173.3 C1772.7,1179.8 1772.8,1186.9 1774.8,1193.2 C1776.1,1197.2 1780.6,1199.4 1783.5,1202.5" stroke-width="0.9" />
<path d="M1787,1157.4 L1825.6,1148.8 C1856.5,1153.5 1887.5,1157.4 1918.2,1162.9 C1919.4,1163.1 1919.7,1164.8 1920.4,1165.8 L1924.2,1522.1 L1922.9,1524.6 L1884.6,1533.4 C1879.9,1532.8 1875.1,1532.7 1870.5,1531.6 C1869.5,1531.3 1869.1,1530 1868.3,1529.2 L1866,1243.1 C1865.3,1240.4 1865.5,1237.2 1863.8,1234.8 C1862.1,1232.3 1858.9,1231.1 1856.4,1229.3 C1833.9,1226 1811.3,1223.4 1789,1219.3 C1787.7,1219.1 1787.3,1217.4 1786.5,1216.5 L1787,1157.4Z" stroke-width="1.75" fill="#fff"/>
<path d="M1787,1158.6 L1881,1173.6 L1919.2,1163.6" stroke-width="1.45" />
<path d="M1881,1173.6 L1884.6,1533.4" stroke-width="1.45" />
<path d="M1819.8,1235.6 L1810.6,1261.4 L1829.4,1261.4 Z" fill="#231f20" stroke="none"/>
<path d="M1819.8,1263.1 L1819.8,1283.9" stroke-width="2.05" stroke-dasharray="9.5 2.2" stroke-linecap="butt"/>
<g stroke="#555">
<path d="M1813.9,1287.5 C1818,1286.7 1822.3,1286.7 1826.4,1287.5 C1827.7,1287.8 1828.7,1289.3 1828.9,1290.5 C1829.6,1294.6 1829.6,1298.9 1828.9,1303 C1828.7,1304.4 1827.8,1306 1826.4,1306.3 C1822.4,1307.2 1818,1307.2 1813.9,1306.3 C1812.5,1306 1811.4,1304.4 1811.1,1303 C1810.4,1298.9 1810.4,1294.6 1811.1,1290.5 C1811.4,1289.2 1812.6,1287.8 1813.9,1287.5Z" stroke-width="0.6" />
<path d="M1811.4,1291.5 C1814.2,1291.8 1817,1292.4 1819.8,1292.2 C1822.7,1292 1825.6,1291.1 1828.6,1290.5" stroke-width="0.5" />
<path d="M1811.4,1294.9 C1814.2,1295.1 1817,1295.7 1819.8,1295.5 C1822.7,1295.4 1825.6,1294.4 1828.6,1293.9" stroke-width="0.5" />
<path d="M1811.4,1298.2 C1814.2,1298.4 1817,1299 1819.8,1298.9 C1822.7,1298.7 1825.6,1297.7 1828.6,1297.2" stroke-width="0.5" />
<path d="M1811.4,1301.5 C1814.2,1301.7 1817,1302.3 1819.8,1302.2 C1822.7,1302 1825.6,1301.1 1828.6,1300.5" stroke-width="0.5" />
<path d="M1811.4,1304.5 C1814.2,1304.7 1817,1305.3 1819.8,1305.2 C1822.7,1305 1825.6,1304.1 1828.6,1303.5" stroke-width="0.5" />
<path d="M1815.6,1342.9 C1816.3,1378.5 1817,1414.1 1817.8,1449.7 C1818.2,1469.1 1819.3,1488.5 1818.9,1507.9 C1818.9,1510.3 1818.1,1512.9 1816.4,1514.6 C1814.8,1516.3 1812,1516.3 1809.8,1517.1 L1784.8,1522.9 L1780.7,1527.1 L1782.3,1532.1 L1787.3,1532.6 C1797.6,1529.9 1808.1,1528.1 1818.1,1524.6 C1820.7,1523.7 1823.1,1521.8 1824.8,1519.6 C1826.1,1517.7 1826.7,1515.3 1826.7,1512.9 C1827.3,1493.5 1827,1474.1 1826.7,1454.7 C1826.2,1417.5 1825.2,1380.2 1824.4,1342.9" stroke-width="0.6" />
<path d="M1815.6,1342.9 C1815,1342.3 1816.5,1341.3 1817.3,1340.9 C1818.1,1340.5 1819.1,1340.6 1820.1,1340.6 C1821.1,1340.6 1822.2,1340.5 1823.1,1340.9 C1823.8,1341.3 1825,1342.3 1824.4,1342.9 C1823.4,1344.1 1821.6,1344.3 1820.1,1344.3 C1818.5,1344.3 1816.6,1344.1 1815.6,1342.9Z" stroke-width="0.5" />
<path d="M1820.1,1344.3 C1820.8,1381.1 1821.6,1417.9 1822.3,1454.7 C1822.6,1473 1823.6,1491.3 1823.1,1509.6 C1823,1512 1822.1,1514.5 1820.6,1516.3 C1818.9,1518.3 1816.2,1519 1813.9,1520.4 L1788.2,1526.6 L1784.8,1522.9" stroke-width="0.5" />
<path d="M1788.2,1526.6 L1787.3,1532.6" stroke-width="0.5" />
</g>
</g>
<!--/S4-->
<!--U1-->
<g id="u1" class="k">
<line x1="249.8" y1="2021" x2="249.8" y2="2644.8" stroke="#c4c4c4" stroke-width="1.0" stroke-linecap="butt"/><line x1="319.6" y1="2021" x2="319.6" y2="2644.8" stroke="#8a8a8a" stroke-width="1.0" stroke-linecap="butt"/><line x1="331.5" y1="2021" x2="331.5" y2="2644.8" stroke="#8a8a8a" stroke-width="1.0" stroke-linecap="butt"/><line x1="440.6" y1="2021" x2="440.6" y2="2644.8" stroke="#8a8a8a" stroke-width="1.0" stroke-linecap="butt"/>
<path d="M399.4,2144 C397,2143.5 394.6,2142.8 392.2,2142.7 C389.8,2142.7 387.3,2142.8 385.1,2143.6 C382,2144.6 379,2145.9 376.5,2147.9 C373.2,2150.6 370.3,2153.8 367.9,2157.3 C365.3,2161.1 363,2165.2 361.5,2169.5 C359.8,2174.2 358.9,2179.1 358.2,2184 C357.6,2188.7 357.6,2193.6 357.5,2198.4 C357.4,2210.4 357.7,2222.4 357.7,2234.4 C357.8,2247.2 357.9,2260 358,2272.8 C358.1,2280 358.1,2287.3 358.2,2294.5 C358.4,2299.3 358.3,2304.1 359,2308.9 C359.6,2313.8 360.6,2318.6 362.2,2323.3 C363.6,2327.4 365.5,2331.3 367.9,2334.8 C369.9,2337.8 372.3,2340.5 375.1,2342.8 C377.1,2344.4 379.7,2345.5 382.2,2346.4 C384.5,2347.2 387,2347.4 389.4,2348 Z" stroke-width="1.8" fill="#fff"/>
<path d="M399.4,2144.3 C397.9,2144.1 396.5,2143.6 395.1,2143.6 C393.2,2143.6 391.2,2143.6 389.4,2144.3 C386.6,2145.4 383.8,2146.8 381.5,2148.6 C378.3,2151.2 375.3,2154 372.9,2157.3 C370.2,2161 368.1,2165.2 366.5,2169.5 C364.7,2174.2 363.7,2179.1 362.9,2184 C362.1,2188.7 361.9,2193.6 361.8,2198.4 C361.6,2210.4 362,2222.4 362,2234.4 C362.1,2247.2 362.2,2260 362.3,2272.8 C362.4,2280 362.3,2287.3 362.5,2294.5 C362.7,2299.3 362.9,2304.1 363.6,2308.9 C364.2,2313.3 365,2317.7 366.5,2321.9 C367.9,2325.9 369.8,2329.8 372.2,2333.4 C374.2,2336.4 376.7,2338.9 379.3,2341.3 C381.5,2343.3 383.9,2345 386.5,2346.4 C388.3,2347.3 390.3,2347.6 392.2,2348.2" stroke-width="1.8" />
<path d="M400.6,2143.5 L427.1,2147.8 C429.5,2148.6 432,2148.9 434.3,2150 C436.9,2151.3 439.4,2153 441.4,2155 C443.9,2157.6 446.1,2160.6 447.9,2163.7 C449.5,2166.6 450.6,2169.8 451.4,2173.1 C452.4,2176.8 452.8,2180.7 453.2,2184.6 C453.7,2188.9 453.7,2193.3 453.9,2197.6 L454.6,2290 C454.4,2294.8 454.5,2299.7 453.9,2304.5 C453.4,2308.8 452.7,2313.2 451.4,2317.4 C450.2,2321.7 448.5,2325.8 446.4,2329.7 C444.5,2333.3 442,2336.7 439.3,2339.8 C436.8,2342.5 433.8,2345 430.7,2347 C428,2348.7 425.1,2350 422.1,2351 C420.3,2351.6 418.3,2351.4 416.4,2351.7 L389.2,2347.4 C387.3,2346.5 385.2,2346 383.5,2344.8 C381.1,2343.2 378.8,2341.3 377,2339.1 C375,2336.5 373.3,2333.5 372,2330.4 C370.5,2326.7 369.5,2322.8 368.8,2318.9 C368.1,2315.1 368.1,2311.2 367.7,2307.3 C367.6,2269.3 367.2,2231.3 367.4,2193.3 C367.4,2189.6 367.7,2186 368.5,2182.4 C369.3,2178.3 370.4,2174.1 372,2170.2 C373.6,2166.4 375.5,2162.8 377.7,2159.4 C380,2156 382.6,2152.8 385.6,2150 C387.9,2147.9 390.6,2146.2 393.5,2145 C395.7,2144 398.3,2144 400.6,2143.5Z" stroke-width="2.4" fill="#fff"/>
<path d="M445.7,2160.5 C444.3,2159 443,2157.3 441.4,2156.1 C439.4,2154.7 437.3,2153.3 435,2152.5 C432.7,2151.7 430.2,2151.4 427.8,2151.4 C425.4,2151.5 422.9,2151.9 420.7,2152.9 C417.8,2154.1 415.1,2155.8 412.8,2157.9 C410,2160.4 407.7,2163.4 405.6,2166.6 C403.3,2170.2 401.5,2174.1 399.9,2178.1 C398.4,2182.1 397.2,2186.2 396.3,2190.4 C395.7,2193.7 395.8,2197.1 395.5,2200.5 L396.7,2311.7 C397.3,2316 397.4,2320.4 398.5,2324.6 C399.5,2328.4 400.9,2332.1 402.8,2335.5 C404.5,2338.4 406.7,2341.1 409.2,2343.4 C411.3,2345.2 413.8,2346.4 416.4,2347.4 C418.7,2348.2 421.1,2348.6 423.5,2348.4 C426,2348.2 428.5,2347.4 430.7,2346.3 C433.3,2345 435.7,2343.2 437.8,2341.2 C440.2,2339.1 442.1,2336.4 444.3,2334" stroke-width="1.8" />
<text transform="matrix(0.6097 -0.1443 0 1 415.1 2169.1)" font-size="12.59" x="0" y="0" stroke="none">PUSH</text>
<text transform="matrix(0.6134 -0.1467 0 1 415.3 2344.5)" font-size="12.38" x="0" y="0" stroke="none">PUSH</text>
<g transform="translate(-1379.9,1067.9)">
<path d="M1787,1157.4 L1825.6,1148.8 C1856.5,1153.5 1887.5,1157.4 1918.2,1162.9 C1919.4,1163.1 1919.7,1164.8 1920.4,1165.8 L1924.2,1522.1 L1922.9,1524.6 L1884.6,1533.4 C1879.9,1532.8 1875.1,1532.7 1870.5,1531.6 C1869.5,1531.3 1869.1,1530 1868.3,1529.2 L1866,1243.1 C1865.3,1240.4 1865.5,1237.2 1863.8,1234.8 C1862.1,1232.3 1858.9,1231.1 1856.4,1229.3 C1833.9,1226 1811.3,1223.4 1789,1219.3 C1787.7,1219.1 1787.3,1217.4 1786.5,1216.5 L1787,1157.4Z" stroke-width="1.75" fill="#fff"/>
<path d="M1787,1158.6 L1881,1173.6 L1919.2,1163.6" stroke-width="1.45" />
<path d="M1881,1173.6 L1884.6,1533.4" stroke-width="1.45" />
</g>
<path d="M406.5,2235.3 C405.6,2238.3 404.3,2241.2 403.8,2244.2 C403,2247.9 402.6,2251.6 402.6,2255.3 C402.6,2258.7 403,2262 403.8,2265.3 C404.3,2267.8 405.6,2270.1 406.5,2272.5" stroke-width="1.8" />
<path d="M415.4,2222.6 C417.2,2221.5 418.9,2220.1 420.9,2219.3 C422.7,2218.6 424.6,2218.3 426.5,2218.2 C428,2218.1 429.4,2218.5 430.9,2218.7" stroke-width="1.8" />
</g>
<!--/U1-->
<!--U2-->
<g id="u2" class="k">
<line x1="1129.4" y1="2021" x2="1129.4" y2="2644.8" stroke="#8a8a8a" stroke-width="1.0" stroke-linecap="butt"/><line x1="1141.4" y1="2021" x2="1141.4" y2="2644.8" stroke="#8a8a8a" stroke-width="1.0" stroke-linecap="butt"/><line x1="1250.6" y1="2021" x2="1250.6" y2="2644.8" stroke="#8a8a8a" stroke-width="1.0" stroke-linecap="butt"/>
<path d="M1167.8,2249.6 C1167.5,2236.2 1166.5,2222.9 1166.8,2209.6 C1167,2200.7 1167.3,2191.7 1169.5,2183 C1171.6,2174.8 1175.1,2167 1179.5,2159.7 C1181.9,2155.7 1185.4,2152.2 1189.4,2149.7 C1192.9,2147.6 1197.1,2146.4 1201.1,2146.4 C1207.3,2146.4 1213.4,2148.3 1219.4,2149.7 C1227.2,2151.6 1235.9,2152.1 1242.7,2156.4 C1248.7,2160.2 1252.6,2166.8 1256,2173 C1258.8,2178.1 1260.4,2183.9 1261,2189.7 C1261.7,2196.3 1261.1,2203.1 1260,2209.6 C1259.4,2213.4 1257.3,2216.7 1256,2220.3" stroke-width="1.4" />
<path d="M1174.5,2239.6 C1173.9,2229.6 1172.5,2219.6 1172.8,2209.6 C1173.1,2200.7 1174,2191.7 1176.1,2183 C1177.9,2176 1180.6,2169.1 1184.5,2163 C1187.4,2158.4 1191.7,2154.7 1196.1,2151.4 C1198.5,2149.6 1201.6,2149.2 1204.4,2148.1" stroke-width="1.4" />
<path d="M1261,2297.8 C1261,2301.7 1261.5,2305.6 1261,2309.4 C1260.4,2314 1259,2318.4 1257.7,2322.8 C1256.8,2325.6 1255.4,2328.3 1254.3,2331.1" stroke-width="1.4" />
<path d="M1254.3,2220.3 C1284.8,2224.8 1315.5,2228.2 1345.8,2233.9 C1347.4,2234.2 1347.6,2236.6 1348.5,2237.9 C1349.6,2356.6 1351.6,2475.2 1351.8,2593.9 C1351.8,2595.3 1350,2596.1 1349.1,2597.2 L1311.9,2605.6 C1307.1,2604.7 1302.1,2604.7 1297.6,2602.9 C1296.1,2602.3 1296,2600.2 1295.2,2598.9 C1294.6,2504.6 1294.6,2410.4 1293.3,2316.1 C1293.2,2312.1 1292.8,2307.9 1290.9,2304.5 C1289.6,2302 1286.5,2301.1 1284.3,2299.5 L1226,2291.1" stroke-width="1.4" fill="#fff"/>
<path d="M1251,2235.6 L1309.2,2242.9 L1346.5,2234.6" stroke-width="1.05" />
<path d="M1309.2,2242.9 L1311.9,2605.6" stroke-width="1.05" />
<path d="M923.3,2640.2 C922.7,2627.5 923.2,2614.8 921.6,2602.2 C919.8,2587.7 916.2,2573.4 913.3,2559 C910.6,2545.7 906.7,2532.5 905,2519.1 C903.1,2504.7 902.6,2490.2 902.6,2475.8 C902.6,2459.2 903.8,2442.5 905,2425.9 C906.2,2409.2 907.8,2392.6 910,2376 C911.7,2362.6 913.7,2349.2 916.6,2336.1 C918.7,2327 921.4,2318 924.9,2309.4 C929.2,2299.1 935.4,2289.7 939.9,2279.5 C944.8,2268.6 949.5,2257.6 953.2,2246.2 C955.7,2238.7 955.9,2230.5 958.2,2222.9 C960.9,2214.4 964.5,2206.2 968.2,2198 C974,2185.1 980.3,2172.4 986.5,2159.7 C990.8,2150.8 994.6,2141.6 999.8,2133.1 C1003.5,2127.1 1007.8,2121.2 1013.1,2116.5 C1016.9,2113.1 1021.5,2110.4 1026.4,2109.1 C1030.7,2108.1 1035.7,2107.9 1039.7,2109.8 C1043.8,2111.8 1045.9,2116.5 1049,2119.8 C1051.5,2115.4 1054.3,2111.1 1056.4,2106.5 C1060.1,2097.8 1063.2,2088.8 1066.3,2079.9 C1068.7,2073.3 1070,2066.2 1073,2059.9 C1075,2055.6 1077.4,2051.1 1081.3,2048.3 C1085.1,2045.5 1090,2044.3 1094.6,2044.3 C1099.8,2044.3 1105.1,2045.7 1109.6,2048.3 C1113.7,2050.6 1117.7,2053.9 1119.6,2058.2 C1122,2063.9 1121.9,2070.4 1121.9,2076.5 C1121.9,2083.2 1121.2,2090 1119.6,2096.5 C1117.6,2104.5 1114.6,2112.3 1111.3,2119.8 C1108.5,2126.2 1104.4,2131.9 1101.3,2138.1 C1099.9,2140.8 1099.1,2143.6 1097.9,2146.4 C1096.3,2156.4 1095.3,2166.5 1093,2176.4 C1090.3,2187.6 1086.6,2198.6 1083,2209.6 C1079.3,2220.8 1075.5,2231.9 1071.3,2242.9 C1068.3,2250.8 1064.5,2258.4 1061.3,2266.2 C1059.6,2270.6 1057.3,2274.8 1056.4,2279.5 C1056.1,2280.9 1056.7,2282.8 1058,2283.5 C1059.5,2284.2 1062.1,2284.3 1063,2282.8 C1067.5,2275.7 1069.9,2267.4 1073,2259.5 C1077.7,2247.4 1082.2,2235.3 1086.3,2222.9 C1090,2212 1093.3,2200.9 1096.3,2189.7 C1098.9,2179.8 1099.9,2169.5 1102.9,2159.7 C1104.4,2155 1107.4,2150.9 1109.6,2146.4 C1112.9,2138.7 1116.6,2131 1119.6,2123.1 C1123.3,2113.3 1125.6,2102.9 1129.6,2093.2 C1131.7,2087.9 1133.8,2082.2 1137.9,2078.2 C1141.9,2074.2 1147.3,2071.2 1152.8,2069.9 C1158.3,2068.6 1164.1,2069.4 1169.5,2070.9 C1174.4,2072.2 1179.3,2074.5 1182.8,2078.2 C1185.6,2081.2 1187.1,2085.7 1187.1,2089.9 C1187.1,2096.7 1184.8,2103.3 1182.8,2109.8 C1180,2118.9 1176,2127.5 1172.8,2136.4 C1170.5,2143 1167.7,2149.6 1166.2,2156.4 C1164.6,2162.9 1164.8,2169.8 1163.5,2176.4 C1162,2184.2 1159.7,2191.9 1157.8,2199.6 C1155.6,2204.1 1152.9,2208.3 1151.2,2213 C1148.4,2220.5 1146.6,2228.4 1144.5,2236.2 C1142.2,2245.1 1140.1,2254 1137.9,2262.9 C1136.2,2269.7 1132.9,2276.4 1132.9,2283.5 C1132.9,2285.7 1135.7,2287.3 1137.9,2287.8 C1141.1,2288.5 1145.6,2289.3 1147.9,2286.8 C1154.7,2279 1157.8,2268.6 1162.8,2259.5 C1167.2,2251.7 1171.9,2244.1 1176.1,2236.2 C1180.8,2227.5 1185.3,2218.6 1189.4,2209.6 C1193,2202 1196.4,2194.2 1199.4,2186.3 C1201.9,2179.8 1202.9,2172.7 1206.1,2166.4 C1208,2162.5 1210.9,2159 1214.4,2156.4 C1217.8,2153.9 1221.8,2151.9 1226,2151.4 C1230.5,2150.9 1235.2,2152.1 1239.4,2153.7 C1243.7,2155.5 1248,2157.9 1251,2161.4 C1253.8,2164.6 1254.8,2169 1256,2173 C1257.6,2178.5 1259.1,2184 1259.3,2189.7 C1259.6,2196.3 1258.8,2203.1 1257.7,2209.6 C1256.6,2215.3 1254.7,2220.8 1252.7,2226.3 C1249.7,2234.2 1246,2241.8 1242.7,2249.6 C1239.4,2257.3 1236,2265.1 1232.7,2272.8 C1229.4,2280.6 1226,2288.4 1222.7,2296.1 C1219.9,2302.8 1217.2,2309.4 1214.4,2316.1 C1217.2,2315 1219.8,2313.3 1222.7,2312.8 C1227.1,2312 1231.6,2311.6 1236,2312.1 C1240.6,2312.7 1245.3,2313.8 1249.3,2316.1 C1251.9,2317.5 1254.1,2320 1255,2322.8 C1255.9,2325.4 1255.3,2328.5 1254.3,2331.1 C1252.8,2335.3 1250.3,2339.1 1247.7,2342.7 C1245.8,2345.3 1242.7,2346.7 1241,2349.4 C1239.8,2351.3 1239.9,2353.8 1239.4,2356 C1240.2,2360.5 1241.8,2364.8 1242,2369.3 C1242.4,2377.1 1241.7,2384.9 1241,2392.6 C1240.2,2401.5 1238.7,2410.4 1237.7,2419.2 C1236.8,2427 1235.7,2434.7 1235.4,2442.5 C1235.1,2449.2 1236.2,2455.8 1236,2462.5 C1235.9,2469.2 1236.1,2476 1234.4,2482.5 C1232.7,2488.4 1229.8,2494.1 1226,2499.1 C1221.3,2505.4 1215.4,2510.7 1209.4,2515.7 C1200.9,2522.9 1191.7,2529 1182.8,2535.7 C1173.9,2542.3 1164.9,2548.8 1156.2,2555.7 C1149.4,2561 1142.3,2566.2 1136.2,2572.3 C1132.3,2576.2 1128.6,2580.6 1126.2,2585.6 C1123.8,2590.8 1123.6,2596.7 1122.2,2602.2 C1123,2607.8 1123.6,2613.4 1124.6,2618.9 C1125.8,2626 1127.4,2633.1 1128.9,2640.2" stroke-width="1.85" fill="#fff"/>
<path d="M1049,2119.8 C1048.2,2123.1 1047.7,2126.6 1046.4,2129.8 C1043.5,2136.6 1039.7,2143.1 1036.4,2149.7 C1033.1,2156.4 1028.9,2162.7 1026.4,2169.7 C1023.3,2178.3 1021.7,2187.4 1019.8,2196.3 C1017.8,2205.1 1016.7,2214.1 1014.8,2222.9 C1012.8,2231.9 1010.6,2240.8 1008.1,2249.6 C1006.2,2256.3 1004.6,2263.2 1001.5,2269.5 C998.4,2275.6 993.2,2280.3 989.8,2286.2 C984.7,2295 980.5,2304.3 975.8,2313.4" stroke-width="1.85" />
<path d="M1214.4,2316.1 C1212.2,2322.8 1209.4,2329.3 1207.7,2336.1 C1205,2347 1202.5,2358.1 1201.1,2369.3 C1199.7,2380.4 1200,2391.5 1199.4,2402.6 C1198.9,2411.5 1198.9,2420.4 1197.8,2429.2 C1196.6,2438.2 1194.7,2447 1192.8,2455.8 C1191.4,2462.3 1189.4,2468.7 1187.8,2475.1" stroke-width="1.85" />
<path d="M1110.3,2174.7 C1111.1,2178.6 1111.1,2182.8 1112.9,2186.3 C1114.3,2189.1 1116.9,2191.3 1119.6,2193 C1121.8,2194.5 1124.7,2194.8 1127.2,2195.7" stroke-width="1.85" />
<path d="M1217.7,2172 C1222.7,2172.4 1227.8,2172.2 1232.7,2173 C1236.7,2173.7 1240.5,2175.2 1244.3,2176.4" stroke-width="1.85" />
<path d="M1243.3,2207.3 C1245.3,2209.2 1247.9,2210.6 1249.3,2213 C1250.9,2215.4 1251.1,2218.5 1252,2221.3" stroke-width="1.85" />
<path d="M1336.5,2203.6 L1397.4,2212.3" stroke-width="1.9" stroke-dasharray="7.6 2.7" stroke-linecap="butt"/>
<path d="M1308.6,2200.6 L1335.5,2193.3 L1332.8,2212.6 Z" fill="#231f20" stroke="none"/>
<path d="M1336.5,2355 L1397.4,2363" stroke-width="1.9" stroke-dasharray="7.6 2.7" stroke-linecap="butt"/>
<path d="M1308.6,2350.4 L1335.2,2344.4 L1332.5,2363.3 Z" fill="#231f20" stroke="none"/>
</g>
<!--/U2-->
<!--U3-->
<g id="u3" class="k">
<line x1="1860.5" y1="2021" x2="1860.5" y2="2644.8" stroke="#8a8a8a" stroke-width="1.0" stroke-linecap="butt"/><line x1="1872.4" y1="2021" x2="1872.4" y2="2644.8" stroke="#8a8a8a" stroke-width="1.0" stroke-linecap="butt"/><line x1="1981.5" y1="2021" x2="1981.5" y2="2644.8" stroke="#8a8a8a" stroke-width="1.0" stroke-linecap="butt"/>
<g transform="translate(731.2,2.3)">
<path d="M1167.8,2249.6 C1167.5,2236.2 1166.5,2222.9 1166.8,2209.6 C1167,2200.7 1167.3,2191.7 1169.5,2183 C1171.6,2174.8 1175.1,2167 1179.5,2159.7 C1181.9,2155.7 1185.4,2152.2 1189.4,2149.7 C1192.9,2147.6 1197.1,2146.4 1201.1,2146.4 C1207.3,2146.4 1213.4,2148.3 1219.4,2149.7 C1227.2,2151.6 1235.9,2152.1 1242.7,2156.4 C1248.7,2160.2 1252.6,2166.8 1256,2173 C1258.8,2178.1 1260.4,2183.9 1261,2189.7 C1261.7,2196.3 1261.1,2203.1 1260,2209.6 C1259.4,2213.4 1257.3,2216.7 1256,2220.3" stroke-width="1.4" />
<path d="M1174.5,2239.6 C1173.9,2229.6 1172.5,2219.6 1172.8,2209.6 C1173.1,2200.7 1174,2191.7 1176.1,2183 C1177.9,2176 1180.6,2169.1 1184.5,2163 C1187.4,2158.4 1191.7,2154.7 1196.1,2151.4 C1198.5,2149.6 1201.6,2149.2 1204.4,2148.1" stroke-width="1.4" />
<path d="M1261,2297.8 C1261,2301.7 1261.5,2305.6 1261,2309.4 C1260.4,2314 1259,2318.4 1257.7,2322.8 C1256.8,2325.6 1255.4,2328.3 1254.3,2331.1" stroke-width="1.4" />
</g>
<path d="M1987.2,2218.6 L2046.7,2226.9 L2045.4,2256.1 L2033.8,2276.8 L2037.6,2310.4 L1966.5,2300.1 L1960,2291 L1969.1,2267.7 L1987.2,2218.6Z" stroke="none" fill="#fff"/>
<path d="M1987.2,2218.6 L2046.7,2226.9" stroke-width="1.4" />
<path d="M2045.4,2256.1 L2033.8,2276.8" stroke-width="1.4" />
<path d="M2037.6,2310.4 L1966.5,2300.1 L1960,2291" stroke-width="1.4" />
<path d="M1969.1,2267.7 L2033.8,2276.8" stroke-width="1.05" />
<path d="M2141.1,2276.3 C2149.8,2274.6 2158.4,2272.6 2167,2271.1 C2172.2,2270.2 2177.3,2268.9 2182.6,2269 C2186.1,2269.1 2189.7,2270 2192.9,2271.6 C2198.5,2274.4 2203.3,2278.5 2208.4,2282 C2217.1,2287.9 2225.7,2294.1 2234.3,2300.1 C2242.9,2306.1 2251.9,2311.7 2260.2,2318.2 C2268.3,2324.6 2276.3,2331.4 2283.5,2338.9 C2291.1,2346.9 2297.5,2356 2304.2,2364.8 C2310.5,2373.2 2315.8,2382.4 2322.3,2390.7 C2327.9,2397.9 2334,2404.8 2340.4,2411.4 C2346.1,2417.3 2352.5,2422.6 2358.5,2428.2 L2358.5,2598.2 C2350.8,2597.6 2342.9,2597.7 2335.2,2596.4 C2326.5,2594.9 2317.7,2592.9 2309.4,2589.9 C2300.4,2586.8 2291.9,2582.5 2283.5,2578.3 C2274.7,2573.9 2265.9,2569.3 2257.6,2564 C2248.7,2558.5 2240.1,2552.3 2231.7,2545.9 C2223.7,2539.8 2216.2,2533 2208.4,2526.5 C2205.8,2529.1 2203.3,2531.7 2200.7,2534.3 C2197.2,2537.7 2194.5,2542.1 2190.3,2544.6 C2186.5,2547 2181.9,2548.1 2177.4,2548.5 C2172.2,2549 2166.9,2548.2 2161.8,2547.2 C2154.8,2545.8 2148,2543.5 2141.1,2541.3 C2135.9,2539.6 2130.6,2537.9 2125.6,2535.6 C2121.9,2533.9 2118.2,2531.9 2115.3,2529.1 C2112.7,2526.6 2110.7,2523.4 2109.6,2520.1 C2108.5,2516.9 2109.1,2513.5 2108.8,2510.2 C2104.1,2509.6 2099.1,2509.9 2094.6,2508.4 C2090.7,2507.1 2087.1,2504.8 2084.2,2501.9 C2080.5,2498.2 2077.3,2493.8 2075.2,2489 C2073.4,2485 2072.1,2480.4 2072.6,2476.1 C2073,2472.4 2076,2469.5 2077.7,2466.2 C2075.6,2465.6 2073.3,2465.3 2071.3,2464.4 C2067.7,2462.9 2063.8,2461.9 2060.9,2459.2 C2057.5,2456.1 2055.5,2451.6 2053.2,2447.6 C2050.7,2443.4 2048.2,2439.3 2046.7,2434.7 C2045.4,2430.5 2044.4,2426.1 2044.9,2421.7 C2045.3,2417.2 2047.8,2413.1 2049.3,2408.8 C2048,2407.9 2046.3,2407.4 2045.4,2406.2 C2042.4,2402.2 2039.7,2397.8 2037.6,2393.3 C2035,2387.4 2033.2,2381.2 2031.2,2375.1 C2028.9,2368.3 2026.1,2361.5 2024.7,2354.4 C2023.5,2348.5 2022.4,2342.3 2023.4,2336.3 C2024.2,2331.6 2026.6,2327 2029.9,2323.4 C2033.7,2319.1 2039.4,2316.8 2044.1,2313.5 L2037.6,2310.4 L2033.8,2276.8 C2037.6,2269.9 2043.4,2263.8 2045.4,2256.1 C2046.7,2251.1 2043.1,2245.8 2043.3,2240.6 C2043.6,2234.4 2044.4,2228.2 2046.7,2222.5 C2048.6,2217.6 2051.8,2213 2055.7,2209.5 C2059.4,2206.3 2064,2204 2068.7,2203 C2072.9,2202.2 2077.6,2202.7 2081.6,2204.3 C2086.5,2206.3 2090.8,2209.7 2094.6,2213.4 C2098.7,2217.5 2101.7,2222.8 2104.9,2227.6 C2109.4,2234.4 2113.2,2241.7 2117.9,2248.3 C2123.5,2256.4 2129.7,2264.1 2136,2271.6 C2137.5,2273.4 2139.4,2274.7 2141.1,2276.3Z" stroke="none" fill="#fff"/>
<path d="M2033.8,2276.8 L2098.4,2359.6" stroke-width="1.05" />
<path d="M2037.6,2310.4 L2044.1,2313.5" stroke-width="1.4" />
<path d="M2045.4,2256.1 C2044.7,2250.9 2043.1,2245.8 2043.3,2240.6 C2043.6,2234.4 2044.4,2228.2 2046.7,2222.5 C2048.6,2217.6 2051.8,2213 2055.7,2209.5 C2059.4,2206.3 2064,2204 2068.7,2203 C2072.9,2202.2 2077.6,2202.7 2081.6,2204.3 C2086.5,2206.3 2090.8,2209.7 2094.6,2213.4 C2098.7,2217.5 2101.7,2222.8 2104.9,2227.6 C2109.4,2234.4 2113.2,2241.7 2117.9,2248.3 C2123.5,2256.4 2129.2,2264.5 2136,2271.6 C2142.2,2278.3 2149.4,2284.2 2156.7,2289.7 C2164.1,2295.4 2171.7,2300.9 2180,2305.3 C2188.2,2309.6 2197.1,2312.6 2205.8,2315.6 C2214.3,2318.6 2223.2,2320.5 2231.7,2323.4 C2238.7,2325.7 2245.6,2328.3 2252.4,2331.1 C2256.9,2333 2261.2,2335.1 2265.4,2337.6 C2269,2339.9 2272.3,2342.8 2275.7,2345.4" stroke-width="1.85" />
<path d="M2045.4,2256.1 C2047.1,2261.3 2048.5,2266.6 2050.6,2271.6 C2053.7,2279.5 2057.1,2287.3 2060.9,2294.9 C2064.9,2302.9 2068.8,2310.9 2073.9,2318.2 C2078.4,2324.8 2083.6,2330.9 2089.4,2336.3 C2095.7,2342.2 2102.7,2347.4 2110.1,2351.8 C2118.3,2356.9 2127.3,2360.5 2136,2364.8 C2142,2367.8 2148.1,2370.7 2154.1,2373.8 C2157.2,2375.5 2160.1,2377.3 2163.1,2379 C2162.7,2383.3 2161.8,2387.6 2161.8,2392 C2161.8,2395.9 2162,2399.9 2163.1,2403.6 C2164.6,2408.2 2167.2,2412.4 2169.6,2416.5 C2172.8,2421.9 2176.7,2426.8 2180,2432.1 C2181,2433.7 2181.8,2435.5 2182.6,2437.2 C2184.4,2441.5 2185.9,2445.9 2187.7,2450.2 C2190.3,2456.2 2192.7,2462.3 2195.5,2468.3 C2198.3,2474.4 2200.9,2480.7 2204.5,2486.4 C2208.7,2492.9 2213.4,2499 2218.8,2504.5 C2225.1,2511.1 2232.1,2517.1 2239.5,2522.6 C2249.4,2530.1 2260,2536.7 2270.5,2543.3 C2279,2548.7 2287.7,2553.8 2296.4,2558.9 C2302.4,2562.4 2308.5,2565.8 2314.5,2569.2" stroke-width="1.85" />
<path d="M2141.1,2276.3 C2149.8,2274.6 2158.4,2272.6 2167,2271.1 C2172.2,2270.2 2177.3,2268.9 2182.6,2269 C2186.1,2269.1 2189.7,2270 2192.9,2271.6 C2198.5,2274.4 2203.3,2278.5 2208.4,2282 C2217.1,2287.9 2225.7,2294.1 2234.3,2300.1 C2242.9,2306.1 2251.9,2311.7 2260.2,2318.2 C2268.3,2324.6 2276.3,2331.4 2283.5,2338.9 C2291.1,2346.9 2297.5,2356 2304.2,2364.8 C2310.5,2373.2 2315.8,2382.4 2322.3,2390.7 C2327.9,2397.9 2334,2404.8 2340.4,2411.4 C2346.1,2417.3 2352.5,2422.6 2358.5,2428.2" stroke-width="1.85" />
<path d="M2084.2,2359.6 C2080.8,2355.3 2077.5,2350.8 2073.9,2346.7 C2070.6,2343 2066.6,2340.1 2063.5,2336.3 C2059.6,2331.5 2057.2,2325.5 2053.2,2320.8 C2050.7,2317.9 2047.9,2313.1 2044.1,2313.5 C2038.4,2314.2 2033.7,2319.1 2029.9,2323.4 C2026.6,2327 2024.2,2331.6 2023.4,2336.3 C2022.4,2342.3 2023.5,2348.5 2024.7,2354.4 C2026.1,2361.5 2028.9,2368.3 2031.2,2375.1 C2033.2,2381.2 2035,2387.4 2037.6,2393.3 C2039.7,2397.8 2042.4,2402.2 2045.4,2406.2 C2046.3,2407.4 2048.1,2407.8 2049.3,2408.8 C2054.1,2412.6 2058.5,2417 2063.5,2420.4 C2066.7,2422.6 2070,2425.3 2073.9,2425.6 C2080.8,2426.2 2087.7,2424.3 2094.6,2423 C2101.6,2421.7 2108.3,2419.5 2115.3,2417.8 C2120.4,2416.6 2125.5,2415.1 2130.8,2414.5 C2135.5,2413.9 2140.5,2415.7 2145,2414.5 C2147.8,2413.7 2150.3,2411.4 2151.5,2408.8 C2153.3,2404.8 2153.8,2400.2 2153.6,2395.8 C2153.3,2391.4 2152.6,2386.6 2150.2,2382.9 C2147.4,2378.5 2143,2375.3 2138.6,2372.6 C2132.9,2369.1 2126.7,2366.7 2120.4,2364.8 C2113.7,2362.8 2106.7,2361.4 2099.7,2360.9 C2092.9,2360.4 2085.9,2360.6 2079,2361.7 C2074.5,2362.4 2070.2,2364.1 2066.1,2366.1 C2063.6,2367.3 2061.8,2369.5 2059.6,2371.3" stroke-width="1.85" />
<path d="M2153.6,2393.3 C2155.5,2392.8 2157.4,2392.5 2159.3,2392 C2160.3,2391.6 2161.3,2391.1 2162.4,2390.7" stroke-width="1.85" />
<path d="M2130.8,2415.2 C2129.1,2418.3 2126.8,2421 2125.6,2424.3 C2124.4,2427.6 2123.6,2431.1 2123.5,2434.7 C2123.5,2437.5 2124.6,2440.2 2125.1,2442.9" stroke-width="1.85" />
<path d="M2049.3,2408.8 C2047.8,2413.1 2045.3,2417.2 2044.9,2421.7 C2044.4,2426.1 2045.4,2430.5 2046.7,2434.7 C2048.2,2439.3 2050.7,2443.4 2053.2,2447.6 C2055.5,2451.6 2057.5,2456.1 2060.9,2459.2 C2063.8,2461.9 2067.7,2462.9 2071.3,2464.4 C2073.3,2465.3 2075.6,2465.5 2077.7,2466.2 C2081.7,2467.6 2085.7,2468.9 2089.4,2470.9 C2094.8,2473.9 2099.5,2478.1 2104.9,2481.2 C2109.9,2484.2 2114.9,2487.4 2120.4,2489 C2126.3,2490.7 2132.5,2491.8 2138.6,2491.1 C2144.1,2490.4 2149.5,2488.2 2154.1,2485.1 C2158.4,2482.2 2161.6,2477.8 2164.4,2473.5 C2168.6,2467 2171.5,2459.8 2174.8,2452.8 C2177.4,2447.2 2179.6,2441.6 2182,2436" stroke-width="1.85" />
<path d="M2077.7,2466.2 C2076,2469.5 2073,2472.4 2072.6,2476.1 C2072.1,2480.4 2073.4,2485 2075.2,2489 C2077.3,2493.8 2080.5,2498.2 2084.2,2501.9 C2087.1,2504.8 2090.7,2507.1 2094.6,2508.4 C2099.1,2509.9 2104.1,2509.6 2108.8,2510.2 C2114.4,2510.9 2120.1,2511.2 2125.6,2512.3 C2132.6,2513.6 2139.4,2515.8 2146.3,2517.5 C2153.2,2519.1 2160,2521.9 2167,2522.1 C2172.3,2522.3 2177.7,2520.9 2182.6,2518.8 C2186.5,2517.1 2190.2,2514.3 2192.9,2511 C2196.3,2506.8 2198.4,2501.7 2200.7,2496.8 C2202.3,2493 2203.3,2489 2204.5,2485.1" stroke-width="1.85" />
<path d="M2108.8,2510.2 C2109.1,2513.5 2108.5,2516.9 2109.6,2520.1 C2110.7,2523.4 2112.7,2526.6 2115.3,2529.1 C2118.2,2531.9 2121.9,2533.9 2125.6,2535.6 C2130.6,2537.9 2135.9,2539.6 2141.1,2541.3 C2148,2543.5 2154.8,2545.8 2161.8,2547.2 C2166.9,2548.2 2172.2,2549 2177.4,2548.5 C2181.9,2548.1 2186.5,2547 2190.3,2544.6 C2194.5,2542.1 2197.1,2537.6 2200.7,2534.3 C2203.6,2531.6 2207.2,2529.6 2209.7,2526.5 C2212.5,2523.1 2214.2,2518.9 2216.2,2514.9 C2217.7,2511.9 2218.8,2508.8 2220.1,2505.8" stroke-width="1.85" />
<path d="M2208.4,2526.5 C2216.2,2533 2223.7,2539.8 2231.7,2545.9 C2240.1,2552.3 2248.7,2558.5 2257.6,2564 C2265.9,2569.3 2274.7,2573.9 2283.5,2578.3 C2291.9,2582.5 2300.4,2586.8 2309.4,2589.9 C2317.7,2592.9 2326.5,2595 2335.2,2596.4 C2342.9,2597.6 2350.8,2597.4 2358.5,2597.9" stroke-width="1.85" />
<g transform="translate(731.2,2.3)">
<path d="M923.3,2640.2 C922.7,2627.5 923.2,2614.8 921.6,2602.2 C919.8,2587.7 916.2,2573.4 913.3,2559 C910.6,2545.7 906.7,2532.5 905,2519.1 C903.1,2504.7 902.6,2490.2 902.6,2475.8 C902.6,2459.2 903.8,2442.5 905,2425.9 C906.2,2409.2 907.8,2392.6 910,2376 C911.7,2362.6 913.7,2349.2 916.6,2336.1 C918.7,2327 921.4,2318 924.9,2309.4 C929.2,2299.1 935.4,2289.7 939.9,2279.5 C944.8,2268.6 949.5,2257.6 953.2,2246.2 C955.7,2238.7 955.9,2230.5 958.2,2222.9 C960.9,2214.4 964.5,2206.2 968.2,2198 C974,2185.1 980.3,2172.4 986.5,2159.7 C990.8,2150.8 994.6,2141.6 999.8,2133.1 C1003.5,2127.1 1007.8,2121.2 1013.1,2116.5 C1016.9,2113.1 1021.5,2110.4 1026.4,2109.1 C1030.7,2108.1 1035.7,2107.9 1039.7,2109.8 C1043.8,2111.8 1045.9,2116.5 1049,2119.8 C1051.5,2115.4 1054.3,2111.1 1056.4,2106.5 C1060.1,2097.8 1063.2,2088.8 1066.3,2079.9 C1068.7,2073.3 1070,2066.2 1073,2059.9 C1075,2055.6 1077.4,2051.1 1081.3,2048.3 C1085.1,2045.5 1090,2044.3 1094.6,2044.3 C1099.8,2044.3 1105.1,2045.7 1109.6,2048.3 C1113.7,2050.6 1117.7,2053.9 1119.6,2058.2 C1122,2063.9 1121.9,2070.4 1121.9,2076.5 C1121.9,2083.2 1121.2,2090 1119.6,2096.5 C1117.6,2104.5 1114.6,2112.3 1111.3,2119.8 C1108.5,2126.2 1104.4,2131.9 1101.3,2138.1 C1099.9,2140.8 1099.1,2143.6 1097.9,2146.4 C1096.3,2156.4 1095.3,2166.5 1093,2176.4 C1090.3,2187.6 1086.6,2198.6 1083,2209.6 C1079.3,2220.8 1075.5,2231.9 1071.3,2242.9 C1068.3,2250.8 1064.5,2258.4 1061.3,2266.2 C1059.6,2270.6 1057.3,2274.8 1056.4,2279.5 C1056.1,2280.9 1056.7,2282.8 1058,2283.5 C1059.5,2284.2 1062.1,2284.3 1063,2282.8 C1067.5,2275.7 1069.9,2267.4 1073,2259.5 C1077.7,2247.4 1082.2,2235.3 1086.3,2222.9 C1090,2212 1093.3,2200.9 1096.3,2189.7 C1098.9,2179.8 1099.9,2169.5 1102.9,2159.7 C1104.4,2155 1107.4,2150.9 1109.6,2146.4 C1112.9,2138.7 1116.6,2131 1119.6,2123.1 C1123.3,2113.3 1125.6,2102.9 1129.6,2093.2 C1131.7,2087.9 1133.8,2082.2 1137.9,2078.2 C1141.9,2074.2 1147.3,2071.2 1152.8,2069.9 C1158.3,2068.6 1164.1,2069.4 1169.5,2070.9 C1174.4,2072.2 1179.3,2074.5 1182.8,2078.2 C1185.6,2081.2 1187.1,2085.7 1187.1,2089.9 C1187.1,2096.7 1184.8,2103.3 1182.8,2109.8 C1180,2118.9 1176,2127.5 1172.8,2136.4 C1170.5,2143 1167.7,2149.6 1166.2,2156.4 C1164.6,2162.9 1164.8,2169.8 1163.5,2176.4 C1162,2184.2 1159.7,2191.9 1157.8,2199.6 C1155.6,2204.1 1152.9,2208.3 1151.2,2213 C1148.4,2220.5 1146.6,2228.4 1144.5,2236.2 C1142.2,2245.1 1140.1,2254 1137.9,2262.9 C1136.2,2269.7 1132.9,2276.4 1132.9,2283.5 C1132.9,2285.7 1135.7,2287.3 1137.9,2287.8 C1141.1,2288.5 1145.6,2289.3 1147.9,2286.8 C1154.7,2279 1157.8,2268.6 1162.8,2259.5 C1167.2,2251.7 1171.9,2244.1 1176.1,2236.2 C1180.8,2227.5 1185.3,2218.6 1189.4,2209.6 C1193,2202 1196.4,2194.2 1199.4,2186.3 C1201.9,2179.8 1202.9,2172.7 1206.1,2166.4 C1208,2162.5 1210.9,2159 1214.4,2156.4 C1217.8,2153.9 1221.8,2151.9 1226,2151.4 C1230.5,2150.9 1235.2,2152.1 1239.4,2153.7 C1243.7,2155.5 1248,2157.9 1251,2161.4 C1253.8,2164.6 1254.8,2169 1256,2173 C1257.6,2178.5 1259.1,2184 1259.3,2189.7 C1259.6,2196.3 1258.8,2203.1 1257.7,2209.6 C1256.6,2215.3 1254.7,2220.8 1252.7,2226.3 C1249.7,2234.2 1246,2241.8 1242.7,2249.6 C1239.4,2257.3 1236,2265.1 1232.7,2272.8 C1229.4,2280.6 1226,2288.4 1222.7,2296.1 C1219.9,2302.8 1217.2,2309.4 1214.4,2316.1 C1217.2,2315 1219.8,2313.3 1222.7,2312.8 C1227.1,2312 1231.6,2311.6 1236,2312.1 C1240.6,2312.7 1245.3,2313.8 1249.3,2316.1 C1251.9,2317.5 1254.1,2320 1255,2322.8 C1255.9,2325.4 1255.3,2328.5 1254.3,2331.1 C1252.8,2335.3 1250.3,2339.1 1247.7,2342.7 C1245.8,2345.3 1242.7,2346.7 1241,2349.4 C1239.8,2351.3 1239.9,2353.8 1239.4,2356 C1240.2,2360.5 1241.8,2364.8 1242,2369.3 C1242.4,2377.1 1241.7,2384.9 1241,2392.6 C1240.2,2401.5 1238.7,2410.4 1237.7,2419.2 C1236.8,2427 1235.7,2434.7 1235.4,2442.5 C1235.1,2449.2 1236.2,2455.8 1236,2462.5 C1235.9,2469.2 1236.1,2476 1234.4,2482.5 C1232.7,2488.4 1229.8,2494.1 1226,2499.1 C1221.3,2505.4 1215.4,2510.7 1209.4,2515.7 C1200.9,2522.9 1191.7,2529 1182.8,2535.7 C1173.9,2542.3 1164.9,2548.8 1156.2,2555.7 C1149.4,2561 1142.3,2566.2 1136.2,2572.3 C1132.3,2576.2 1128.6,2580.6 1126.2,2585.6 C1123.8,2590.8 1123.6,2596.7 1122.2,2602.2 C1123,2607.8 1123.6,2613.4 1124.6,2618.9 C1125.8,2626 1127.4,2633.1 1128.9,2640.2" stroke-width="1.85" fill="#fff"/>
<path d="M1049,2119.8 C1048.2,2123.1 1047.7,2126.6 1046.4,2129.8 C1043.5,2136.6 1039.7,2143.1 1036.4,2149.7 C1033.1,2156.4 1028.9,2162.7 1026.4,2169.7 C1023.3,2178.3 1021.7,2187.4 1019.8,2196.3 C1017.8,2205.1 1016.7,2214.1 1014.8,2222.9 C1012.8,2231.9 1010.6,2240.8 1008.1,2249.6 C1006.2,2256.3 1004.6,2263.2 1001.5,2269.5 C998.4,2275.6 993.2,2280.3 989.8,2286.2 C984.7,2295 980.5,2304.3 975.8,2313.4" stroke-width="1.85" />
<path d="M1214.4,2316.1 C1212.2,2322.8 1209.4,2329.3 1207.7,2336.1 C1205,2347 1202.5,2358.1 1201.1,2369.3 C1199.7,2380.4 1200,2391.5 1199.4,2402.6 C1198.9,2411.5 1198.9,2420.4 1197.8,2429.2 C1196.6,2438.2 1194.7,2447 1192.8,2455.8 C1191.4,2462.3 1189.4,2468.7 1187.8,2475.1" stroke-width="1.85" />
<path d="M1110.3,2174.7 C1111.1,2178.6 1111.1,2182.8 1112.9,2186.3 C1114.3,2189.1 1116.9,2191.3 1119.6,2193 C1121.8,2194.5 1124.7,2194.8 1127.2,2195.7" stroke-width="1.85" />
<path d="M1217.7,2172 C1222.7,2172.4 1227.8,2172.2 1232.7,2173 C1236.7,2173.7 1240.5,2175.2 1244.3,2176.4" stroke-width="1.85" />
<path d="M1243.3,2207.3 C1245.3,2209.2 1247.9,2210.6 1249.3,2213 C1250.9,2215.4 1251.1,2218.5 1252,2221.3" stroke-width="1.85" />
</g>
<rect x="1600" y="2015" width="56.3" height="640" fill="#fff" stroke="none"/>
<path id="wristclip" d="M1656.6,2628 L1657,2644.8" stroke-width="1.85"/>
<rect x="2355.6" y="2015" width="30" height="640" fill="#fff" stroke="none"/>
</g>
<!--/U3-->
<!--LOGO-->
<g id="logo" fill="#6a1631" stroke="none">
<rect x="1545.7" y="3385.2" width="11.8" height="62.6"/>
<rect x="1568.0" y="3399.4" width="11.9" height="48.4"/>
<circle cx="1574" cy="3385.2" r="7.1"/>
<path d="M1589.1,3447.8 V3423.7 A24.3,24.3 0 0 1 1637.7,3423.7 V3447.8 H1627.4 V3423.7 A14.0,14.0 0 0 0 1599.4,3423.7 V3447.8 Z"/>
<path fill-rule="evenodd" d="M1644.7,3423.7 A24.3,24.3 0 1 0 1693.3,3423.7 A24.3,24.3 0 1 0 1644.7,3423.7 Z M1655.6,3423.7 A13.4,13.4 0 1 1 1682.4,3423.7 A13.4,13.4 0 1 1 1655.6,3423.7 Z"/>
<rect x="1654.6" y="3420.4" width="38.4" height="6.6"/>
<rect x="1670.0" y="3427.0" width="25.3" height="4.9" fill="#fff"/>
<path fill-rule="evenodd" d="M1699.6,3423.7 A24.3,24.3 0 1 0 1748.2,3423.7 A24.3,24.3 0 1 0 1699.6,3423.7 Z M1710.5,3423.7 A13.4,13.4 0 1 1 1737.3,3423.7 A13.4,13.4 0 1 1 1710.5,3423.7 Z"/>
<rect x="1738.1" y="3423.7" width="10.0" height="24.1"/>
<path fill-rule="evenodd" d="M1809.9,3423.7 A24.3,24.3 0 1 0 1858.5,3423.7 A24.3,24.3 0 1 0 1809.9,3423.7 Z M1820.8,3423.7 A13.4,13.4 0 1 1 1847.6,3423.7 A13.4,13.4 0 1 1 1820.8,3423.7 Z"/>
<rect x="1848.2" y="3423.7" width="9.9" height="24.1"/>
<path fill-rule="evenodd" d="M1756.0,3423.7 A24.3,24.3 0 1 0 1804.6,3423.7 A24.3,24.3 0 1 0 1756.0,3423.7 Z M1766.9,3423.7 A13.4,13.4 0 1 1 1793.7,3423.7 A13.4,13.4 0 1 1 1766.9,3423.7 Z"/>
<rect x="1791.1" y="3415.1" width="14.2" height="17.4" fill="#fff"/>
<rect x="1868.4" y="3385.2" width="11.6" height="62.6"/>
<rect x="1890.6" y="3399.4" width="11.9" height="48.4"/>
<path d="M1885.9,3378.3 L1896.9,3378.3 L1902.2,3391.9 L1891.1,3391.9 Z"/>
</g>
<!--/LOGO-->
</svg>
</body></html>
